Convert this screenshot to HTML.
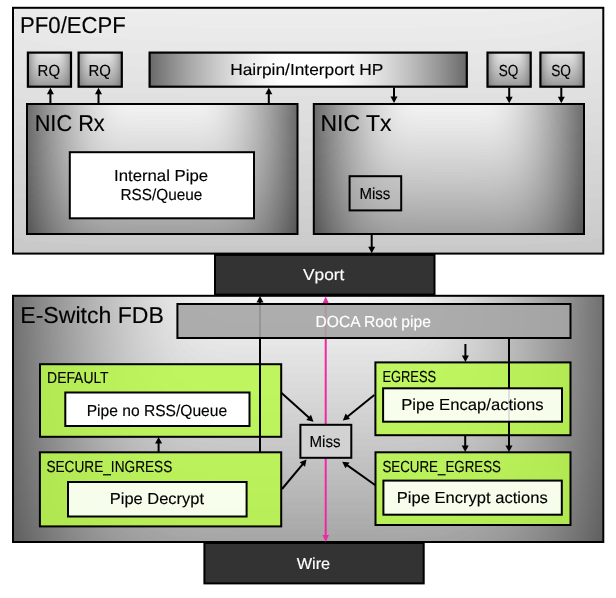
<!DOCTYPE html>
<html><head><meta charset="utf-8"><title>DOCA pipe diagram</title>
<style>html,body{margin:0;padding:0;background:#fff}svg{display:block}text{font-family:"Liberation Sans",sans-serif;stroke-width:0.15px;text-rendering:geometricPrecision}</style></head>
<body><svg width="616" height="598" viewBox="0 0 616 598">
<defs><clipPath id="cp1"><rect x="13" y="7.8" width="590.30" height="245.80"/></clipPath><clipPath id="cp2"><rect x="27.9" y="52.6" width="43.10" height="34.10"/></clipPath><clipPath id="cp3"><rect x="78.6" y="52.6" width="43.20" height="34.10"/></clipPath><linearGradient id="hp" x1="0" y1="0" x2="1" y2="0"><stop offset="0.0000" stop-color="#696969"/><stop offset="0.0417" stop-color="#7f7f7f"/><stop offset="0.0833" stop-color="#949494"/><stop offset="0.1250" stop-color="#a7a7a7"/><stop offset="0.1667" stop-color="#b9b9b9"/><stop offset="0.2083" stop-color="#c9c9c9"/><stop offset="0.2500" stop-color="#d8d8d8"/><stop offset="0.2917" stop-color="#e5e5e5"/><stop offset="0.3333" stop-color="#efefef"/><stop offset="0.3750" stop-color="#f8f8f8"/><stop offset="0.4167" stop-color="#fefefe"/><stop offset="0.4583" stop-color="#ffffff"/><stop offset="0.5000" stop-color="#ffffff"/><stop offset="0.5417" stop-color="#ffffff"/><stop offset="0.5833" stop-color="#fefefe"/><stop offset="0.6250" stop-color="#f8f8f8"/><stop offset="0.6667" stop-color="#efefef"/><stop offset="0.7083" stop-color="#e5e5e5"/><stop offset="0.7500" stop-color="#d8d8d8"/><stop offset="0.7917" stop-color="#c9c9c9"/><stop offset="0.8333" stop-color="#b9b9b9"/><stop offset="0.8750" stop-color="#a7a7a7"/><stop offset="0.9167" stop-color="#949494"/><stop offset="0.9583" stop-color="#7f7f7f"/><stop offset="1.0000" stop-color="#696969"/></linearGradient><clipPath id="cp4"><rect x="487.5" y="52.6" width="43.20" height="34.10"/></clipPath><clipPath id="cp5"><rect x="540.4" y="52.6" width="43.30" height="34.10"/></clipPath><clipPath id="cp6"><rect x="27" y="104" width="270.50" height="130.00"/></clipPath><clipPath id="cp7"><rect x="313.8" y="104" width="270.20" height="130.00"/></clipPath><clipPath id="cp8"><rect x="13" y="295.8" width="590.30" height="246.20"/></clipPath><linearGradient id="gg" x1="0" y1="0" x2="1" y2="0"><stop offset="0" stop-color="#bbf262"/><stop offset="1" stop-color="#abe34c"/></linearGradient></defs>
<g clip-path="url(#cp1)" shape-rendering="crispEdges"><rect x="13" y="7.8" width="590.30" height="245.80" fill="#c9c9c9"/><g id="hf1" transform="translate(308.15,7.8)"><polygon points="-0.6,0.0 301.1,0.0 301.1,32.8 301.1,63.2 301.1,91.2 301.1,116.7 301.1,139.8 301.1,160.5 301.1,178.7 301.1,194.5 301.1,207.9 301.1,218.8 301.1,227.3 278.6,233.4 211.4,237.0 44.3,238.2 -0.6,238.2" fill="#cccccc"/><polygon points="-0.6,0.0 301.1,0.0 301.1,30.9 301.1,59.6 301.1,85.9 301.1,110.0 301.1,131.8 301.1,151.3 301.1,168.4 301.1,183.3 301.1,195.9 301.1,206.3 301.1,214.3 272.1,220.0 206.8,223.4 44.3,224.6 -0.6,224.6" fill="#cecece"/><polygon points="-0.6,0.0 301.1,0.0 301.1,29.1 301.1,56.0 301.1,80.7 301.1,103.3 301.1,123.8 301.1,142.1 301.1,158.2 301.1,172.2 301.1,184.0 301.1,193.7 301.1,201.3 265.6,206.6 202.1,209.9 44.3,210.9 -0.6,210.9" fill="#d0d0d0"/><polygon points="-0.6,0.0 301.1,0.0 301.1,27.2 301.1,52.3 301.1,75.5 301.1,96.6 301.1,115.8 301.1,132.9 301.1,148.0 301.1,161.0 301.1,172.1 301.1,181.2 301.1,188.2 258.8,193.3 197.3,196.3 44.3,197.3 -0.6,197.3" fill="#d2d2d2"/><polygon points="-0.6,0.0 301.1,0.0 301.1,25.3 301.1,48.7 301.1,70.3 301.1,89.9 301.1,107.7 301.1,123.7 301.1,137.7 301.1,149.9 301.1,160.2 301.1,168.6 296.8,175.2 251.9,179.9 192.3,182.7 44.3,183.6 -0.6,183.6" fill="#d4d4d4"/><polygon points="-0.6,0.0 301.1,0.0 301.1,23.4 301.1,45.1 301.1,65.0 301.1,83.3 301.1,99.7 301.1,114.5 301.1,127.5 301.1,138.8 301.1,148.3 301.1,156.1 288.2,162.2 244.8,166.5 187.2,169.1 44.3,170.0 -0.6,170.0" fill="#d6d6d6"/><polygon points="-0.6,0.0 301.1,0.0 301.1,21.5 301.1,41.5 301.1,59.8 301.1,76.6 301.1,91.7 301.1,105.3 301.1,117.2 301.1,127.6 301.1,136.4 301.1,143.6 279.3,149.1 237.4,153.1 182.0,155.5 44.3,156.3 -0.6,156.3" fill="#d8d8d8"/><polygon points="-0.6,0.0 301.1,0.0 301.1,19.7 301.1,37.8 301.1,54.6 301.1,69.9 301.1,83.7 301.1,96.1 301.1,107.0 301.1,116.5 301.1,124.5 301.1,131.0 270.1,136.1 229.9,139.7 176.6,141.9 44.3,142.7 -0.6,142.7" fill="#dadada"/><polygon points="-0.6,0.0 301.1,0.0 301.1,17.8 301.1,34.2 301.1,49.4 301.1,63.2 301.1,75.7 301.1,86.9 301.1,96.8 301.1,105.3 301.1,112.6 292.6,118.5 260.6,123.1 222.0,126.4 171.0,128.3 44.3,129.0 -0.6,129.0" fill="#dcdcdc"/><polygon points="-0.6,0.0 301.1,0.0 301.1,15.9 301.1,30.6 301.1,44.1 301.1,56.5 301.1,67.7 301.1,77.7 301.1,86.5 301.1,94.2 301.1,100.6 281.2,105.9 250.7,110.1 213.9,113.0 165.2,114.8 44.3,115.3 -0.6,115.3" fill="#dedede"/><polygon points="-0.6,0.0 301.1,0.0 301.1,14.0 301.1,27.0 301.1,38.9 301.1,49.8 301.1,59.7 301.1,68.5 301.1,76.3 301.1,83.0 294.5,88.7 269.4,93.4 240.3,97.0 205.3,99.6 159.1,101.2 44.3,101.7 -0.6,101.7" fill="#e0e0e0"/><polygon points="-0.6,0.0 301.1,0.0 301.1,12.1 301.1,23.4 301.1,33.7 301.1,43.1 301.1,51.7 301.1,59.3 301.1,66.0 301.1,71.9 280.6,76.8 256.9,80.9 229.4,84.0 196.3,86.2 152.7,87.6 44.3,88.0 -0.6,88.0" fill="#e2e2e2"/><polygon points="-0.6,0.0 301.1,0.0 301.1,10.2 301.1,19.7 301.1,28.5 301.1,36.4 301.1,43.6 301.1,50.1 301.1,55.8 285.7,60.7 266.0,64.9 243.6,68.3 217.8,71.0 186.8,72.9 145.8,74.0 44.3,74.4 -0.6,74.4" fill="#e4e4e4"/><polygon points="-0.6,0.0 301.1,0.0 301.1,8.4 301.1,16.1 301.1,23.2 301.1,29.7 301.1,35.6 300.3,40.9 285.2,45.5 268.6,49.6 250.1,53.0 229.3,55.8 205.3,57.9 176.5,59.5 138.5,60.4 44.3,60.7 -0.6,60.7" fill="#e6e6e6"/><polygon points="-0.6,0.0 301.1,0.0 301.1,6.5 301.1,12.5 301.1,18.0 301.1,23.1 291.9,27.6 279.0,31.7 265.0,35.3 249.6,38.4 232.6,41.1 213.5,43.2 191.5,44.9 165.1,46.1 130.4,46.8 44.3,47.1 -0.6,47.1" fill="#e8e8e8"/><polygon points="-0.6,0.0 301.1,0.0 301.1,4.6 296.6,8.9 287.2,12.8 277.1,16.4 266.3,19.6 254.5,22.5 241.8,25.1 227.9,27.3 212.6,29.2 195.4,30.7 175.7,31.9 152.1,32.7 121.1,33.2 44.3,33.4 -0.6,33.4" fill="#eaeaea"/><polygon points="-0.6,0.0 276.6,0.0 269.1,2.7 261.2,5.2 252.7,7.6 243.8,9.7 234.2,11.6 224.0,13.3 212.9,14.8 200.9,16.1 187.7,17.2 173.0,18.1 156.2,18.9 136.0,19.4 109.6,19.7 44.3,19.8 -0.6,19.8" fill="#ececec"/><polygon points="-0.6,0.0 215.1,0.0 209.2,0.8 203.1,1.6 196.6,2.3 189.8,3.0 182.6,3.6 174.9,4.1 166.7,4.6 157.9,5.0 148.2,5.3 137.5,5.6 125.2,5.8 110.7,6.0 91.5,6.1 44.3,6.1 -0.6,6.1" fill="#eeeeee"/></g><use href="#hf1" transform="translate(616.30,0) scale(-1,1)"/></g><rect x="13" y="7.8" width="590.30" height="245.80" fill="none" stroke="#000" stroke-width="2"/>
<g clip-path="url(#cp2)" shape-rendering="crispEdges"><rect x="27.9" y="52.6" width="43.10" height="34.10" fill="#737373"/><g id="hf2" transform="translate(49.45,52.6)"><polygon points="-0.6,0.0 22.0,0.0 22.0,2.4 22.0,4.9 22.0,7.3 22.0,9.7 22.0,12.2 22.0,14.6 22.0,17.1 22.0,19.5 22.0,21.9 22.0,24.4 22.0,26.8 22.0,29.2 21.9,31.7 21.3,34.1 -0.6,34.1" fill="#767676"/><polygon points="-0.6,0.0 22.0,0.0 22.0,2.4 22.0,4.9 22.0,7.3 22.0,9.7 22.0,12.2 22.0,14.6 22.0,17.1 22.0,19.5 22.0,21.9 22.0,24.4 22.0,26.8 22.0,29.2 21.6,31.7 20.9,34.1 -0.6,34.1" fill="#787878"/><polygon points="-0.6,0.0 22.0,0.0 22.0,2.4 22.0,4.9 22.0,7.3 22.0,9.7 22.0,12.2 22.0,14.6 22.0,17.1 22.0,19.5 22.0,21.9 22.0,24.4 22.0,26.8 21.9,29.2 21.3,31.7 20.6,34.1 -0.6,34.1" fill="#7a7a7a"/><polygon points="-0.6,0.0 22.0,0.0 22.0,2.4 22.0,4.9 22.0,7.3 22.0,9.7 22.0,12.2 22.0,14.6 22.0,17.1 22.0,19.5 22.0,21.9 22.0,24.4 22.0,26.8 21.6,29.2 21.0,31.7 20.3,34.1 -0.6,34.1" fill="#7c7c7c"/><polygon points="-0.6,0.0 22.0,0.0 22.0,2.4 22.0,4.9 22.0,7.3 22.0,9.7 22.0,12.2 22.0,14.6 22.0,17.1 22.0,19.5 22.0,21.9 22.0,24.4 21.8,26.8 21.3,29.2 20.7,31.7 20.0,34.1 -0.6,34.1" fill="#7e7e7e"/><polygon points="-0.6,0.0 22.0,0.0 22.0,2.4 22.0,4.9 22.0,7.3 22.0,9.7 22.0,12.2 22.0,14.6 22.0,17.1 22.0,19.5 22.0,21.9 22.0,24.4 21.6,26.8 21.1,29.2 20.4,31.7 19.6,34.1 -0.6,34.1" fill="#808080"/><polygon points="-0.6,0.0 22.0,0.0 22.0,2.4 22.0,4.9 22.0,7.3 22.0,9.7 22.0,12.2 22.0,14.6 22.0,17.1 22.0,19.5 22.0,21.9 21.7,24.4 21.3,26.8 20.8,29.2 20.1,31.7 19.2,34.1 -0.6,34.1" fill="#828282"/><polygon points="-0.6,0.0 22.0,0.0 22.0,2.4 22.0,4.9 22.0,7.3 22.0,9.7 22.0,12.2 22.0,14.6 22.0,17.1 22.0,19.5 21.8,21.9 21.5,24.4 21.0,26.8 20.5,29.2 19.8,31.7 18.8,34.1 -0.6,34.1" fill="#848484"/><polygon points="-0.6,0.0 22.0,0.0 22.0,2.4 22.0,4.9 22.0,7.3 22.0,9.7 22.0,12.2 22.0,14.6 22.0,17.1 21.9,19.5 21.6,21.9 21.2,24.4 20.8,26.8 20.2,29.2 19.4,31.7 18.4,34.1 -0.6,34.1" fill="#868686"/><polygon points="-0.6,0.0 22.0,0.0 22.0,2.4 22.0,4.9 22.0,7.3 22.0,9.7 22.0,12.2 22.0,14.6 21.9,17.1 21.7,19.5 21.4,21.9 21.0,24.4 20.5,26.8 19.9,29.2 19.1,31.7 17.9,34.1 -0.6,34.1" fill="#888888"/><polygon points="-0.6,0.0 22.0,0.0 22.0,2.4 22.0,4.9 22.0,7.3 22.0,9.7 22.0,12.2 21.9,14.6 21.7,17.1 21.4,19.5 21.1,21.9 20.7,24.4 20.2,26.8 19.5,29.2 18.7,31.7 17.5,34.1 -0.6,34.1" fill="#8a8a8a"/><polygon points="-0.6,0.0 22.0,0.0 22.0,2.4 22.0,4.9 22.0,7.3 22.0,9.7 21.8,12.2 21.7,14.6 21.5,17.1 21.2,19.5 20.9,21.9 20.4,24.4 19.9,26.8 19.2,29.2 18.3,31.7 16.9,34.1 -0.6,34.1" fill="#8c8c8c"/><polygon points="-0.6,0.0 22.0,0.0 22.0,2.4 22.0,4.9 21.9,7.3 21.8,9.7 21.6,12.2 21.4,14.6 21.2,17.1 20.9,19.5 20.6,21.9 20.2,24.4 19.6,26.8 18.9,29.2 17.9,31.7 16.4,34.1 -0.6,34.1" fill="#8e8e8e"/><polygon points="-0.6,0.0 21.9,0.0 21.9,2.4 21.8,4.9 21.7,7.3 21.6,9.7 21.4,12.2 21.2,14.6 21.0,17.1 20.7,19.5 20.3,21.9 19.9,24.4 19.3,26.8 18.5,29.2 17.4,31.7 15.7,34.1 -0.6,34.1" fill="#909090"/><polygon points="-0.6,0.0 21.7,0.0 21.7,2.4 21.6,4.9 21.5,7.3 21.3,9.7 21.2,12.2 21.0,14.6 20.8,17.1 20.4,19.5 20.1,21.9 19.6,24.4 18.9,26.8 18.1,29.2 16.9,31.7 14.9,34.1 -0.6,34.1" fill="#929292"/><polygon points="-0.6,0.0 21.5,0.0 21.4,2.4 21.4,4.9 21.3,7.3 21.1,9.7 21.0,12.2 20.8,14.6 20.5,17.1 20.2,19.5 19.8,21.9 19.3,24.4 18.6,26.8 17.7,29.2 16.4,31.7 14.0,34.1 -0.6,34.1" fill="#949494"/><polygon points="-0.6,0.0 21.3,0.0 21.2,2.4 21.2,4.9 21.0,7.3 20.9,9.7 20.7,12.2 20.5,14.6 20.3,17.1 19.9,19.5 19.5,21.9 19.0,24.4 18.2,26.8 17.3,29.2 15.8,31.7 12.8,34.1 -0.6,34.1" fill="#969696"/><polygon points="-0.6,0.0 21.1,0.0 21.0,2.4 20.9,4.9 20.8,7.3 20.7,9.7 20.5,12.2 20.3,14.6 20.0,17.1 19.7,19.5 19.2,21.9 18.6,24.4 17.9,26.8 16.8,29.2 15.1,31.7 10.7,34.1 -0.6,34.1" fill="#989898"/><polygon points="-0.6,0.0 20.9,0.0 20.7,4.7 20.5,9.0 20.2,12.9 19.8,16.6 19.3,19.8 18.7,22.8 18.0,25.4 17.1,27.6 16.1,29.5 14.9,31.1 13.4,32.3 11.6,33.1 9.2,33.7 3.2,33.8 -0.6,33.8" fill="#9a9a9a"/><polygon points="-0.6,0.0 20.7,0.0 20.5,4.6 20.3,8.8 20.0,12.7 19.6,16.2 19.1,19.4 18.5,22.3 17.8,24.9 16.9,27.1 15.9,28.9 14.7,30.4 13.3,31.6 11.5,32.5 9.2,33.0 3.2,33.1 -0.6,33.1" fill="#9c9c9c"/><polygon points="-0.6,0.0 20.5,0.0 20.3,4.5 20.1,8.6 19.8,12.4 19.4,15.9 18.9,19.0 18.3,21.8 17.6,24.3 16.7,26.5 15.7,28.3 14.5,29.8 13.1,31.0 11.4,31.8 9.1,32.3 3.2,32.4 -0.6,32.4" fill="#9e9e9e"/><polygon points="-0.6,0.0 20.2,0.0 20.1,4.4 19.9,8.4 19.6,12.1 19.2,15.5 18.7,18.6 18.1,21.4 17.4,23.8 16.5,25.9 15.6,27.7 14.4,29.1 13.0,30.3 11.3,31.1 9.0,31.6 3.2,31.7 -0.6,31.7" fill="#a0a0a0"/><polygon points="-0.6,0.0 20.0,0.0 19.9,4.3 19.6,8.2 19.3,11.9 18.9,15.2 18.5,18.2 17.9,20.9 17.2,23.3 16.3,25.3 15.4,27.1 14.2,28.5 12.8,29.6 11.2,30.4 8.9,30.9 3.2,31.0 -0.6,31.0" fill="#a2a2a2"/><polygon points="-0.6,0.0 19.8,0.0 19.6,4.2 19.4,8.0 19.1,11.6 18.7,14.8 18.2,17.8 17.7,20.4 17.0,22.7 16.1,24.7 15.2,26.4 14.0,27.8 12.7,28.9 11.0,29.7 8.8,30.2 3.2,30.3 -0.6,30.3" fill="#a4a4a4"/><polygon points="-0.6,0.0 19.6,0.0 19.4,4.1 19.2,7.9 18.9,11.3 18.5,14.5 18.0,17.4 17.4,19.9 16.8,22.2 15.9,24.2 15.0,25.8 13.9,27.2 12.5,28.2 10.9,29.0 8.7,29.4 3.2,29.6 -0.6,29.6" fill="#a6a6a6"/><polygon points="-0.6,0.0 19.3,0.0 19.2,4.0 18.9,7.7 18.6,11.0 18.3,14.1 17.8,16.9 17.2,19.4 16.5,21.6 15.7,23.6 14.8,25.2 13.7,26.5 12.4,27.5 10.8,28.3 8.6,28.7 3.2,28.9 -0.6,28.9" fill="#a8a8a8"/><polygon points="-0.6,0.0 19.1,0.0 18.9,3.9 18.7,7.5 18.4,10.8 18.0,13.8 17.6,16.5 17.0,18.9 16.3,21.1 15.5,23.0 14.6,24.5 13.5,25.8 12.2,26.8 10.7,27.5 8.5,28.0 3.2,28.1 -0.6,28.1" fill="#aaaaaa"/><polygon points="-0.6,0.0 18.9,0.0 18.7,3.8 18.5,7.3 18.2,10.5 17.8,13.4 17.3,16.1 16.8,18.4 16.1,20.5 15.3,22.3 14.4,23.9 13.4,25.1 12.1,26.1 10.5,26.8 8.4,27.2 3.2,27.4 -0.6,27.4" fill="#acacac"/><polygon points="-0.6,0.0 18.6,0.0 18.5,3.7 18.2,7.1 17.9,10.2 17.6,13.0 17.1,15.6 16.5,17.9 15.9,20.0 15.1,21.7 14.2,23.2 13.2,24.4 11.9,25.4 10.4,26.1 8.3,26.5 3.2,26.6 -0.6,26.6" fill="#aeaeae"/><polygon points="-0.6,0.0 18.4,0.0 18.2,3.6 18.0,6.9 17.7,9.9 17.3,12.7 16.9,15.2 16.3,17.4 15.7,19.4 14.9,21.1 14.0,22.5 13.0,23.7 11.8,24.7 10.3,25.3 8.3,25.7 3.2,25.8 -0.6,25.8" fill="#b0b0b0"/><polygon points="-0.6,0.0 18.2,0.0 18.0,3.5 17.8,6.7 17.4,9.6 17.1,12.3 16.6,14.7 16.1,16.9 15.4,18.8 14.7,20.5 13.8,21.9 12.8,23.0 11.6,23.9 10.1,24.6 8.2,24.9 3.2,25.1 -0.6,25.1" fill="#b2b2b2"/><polygon points="-0.6,0.0 17.9,0.0 17.7,3.3 17.5,6.4 17.2,9.3 16.8,11.9 16.4,14.2 15.8,16.4 15.2,18.2 14.5,19.8 13.6,21.2 12.6,22.3 11.4,23.2 10.0,23.8 8.1,24.2 3.2,24.3 -0.6,24.3" fill="#b4b4b4"/><polygon points="-0.6,0.0 17.7,0.0 17.5,3.2 17.2,6.2 16.9,9.0 16.6,11.5 16.1,13.8 15.6,15.8 15.0,17.6 14.3,19.2 13.4,20.5 12.4,21.6 11.3,22.4 9.9,23.0 8.0,23.4 3.2,23.5 -0.6,23.5" fill="#b6b6b6"/><polygon points="-0.6,0.0 17.4,0.0 17.2,3.1 17.0,6.0 16.7,8.7 16.3,11.1 15.9,13.3 15.4,15.3 14.7,17.0 14.0,18.5 13.2,19.8 12.2,20.8 11.1,21.6 9.7,22.2 7.9,22.6 3.2,22.7 -0.6,22.7" fill="#b8b8b8"/><polygon points="-0.6,0.0 17.2,0.0 17.0,3.0 16.7,5.8 16.4,8.4 16.1,10.7 15.6,12.8 15.1,14.7 14.5,16.4 13.8,17.8 13.0,19.1 12.1,20.1 10.9,20.9 9.6,21.4 7.8,21.7 3.2,21.9 -0.6,21.9" fill="#bababa"/><polygon points="-0.6,0.0 16.9,0.0 16.7,2.9 16.5,5.6 16.2,8.0 15.8,10.3 15.4,12.3 14.9,14.2 14.3,15.8 13.6,17.2 12.8,18.3 11.9,19.3 10.8,20.1 9.4,20.6 7.7,20.9 3.2,21.0 -0.6,21.0" fill="#bcbcbc"/><polygon points="-0.6,0.0 16.6,0.0 16.4,2.8 16.2,5.4 15.9,7.7 15.5,9.9 15.1,11.8 14.6,13.6 14.0,15.1 13.3,16.5 12.6,17.6 11.7,18.5 10.6,19.3 9.3,19.8 7.6,20.1 3.2,20.2 -0.6,20.2" fill="#bebebe"/><polygon points="-0.6,0.0 16.4,0.0 16.2,2.7 15.9,5.1 15.6,7.4 15.3,9.5 14.8,11.3 14.3,13.0 13.8,14.5 13.1,15.8 12.3,16.9 11.5,17.8 10.4,18.4 9.1,18.9 7.5,19.2 3.2,19.3 -0.6,19.3" fill="#c0c0c0"/><polygon points="-0.6,0.0 16.1,0.0 15.9,2.5 15.6,4.9 15.3,7.1 15.0,9.0 14.6,10.8 14.1,12.4 13.5,13.8 12.9,15.1 12.1,16.1 11.2,17.0 10.2,17.6 9.0,18.1 7.3,18.4 3.2,18.5 -0.6,18.5" fill="#c2c2c2"/><polygon points="-0.6,0.0 15.8,0.0 15.6,2.4 15.3,4.7 15.0,6.7 14.7,8.6 14.3,10.3 13.8,11.8 13.2,13.2 12.6,14.4 11.9,15.3 11.0,16.1 10.0,16.8 8.8,17.2 7.2,17.5 3.2,17.6 -0.6,17.6" fill="#c4c4c4"/><polygon points="-0.6,0.0 15.5,0.0 15.3,2.3 15.1,4.4 14.8,6.4 14.4,8.2 14.0,9.8 13.5,11.2 13.0,12.5 12.4,13.6 11.6,14.6 10.8,15.3 9.9,15.9 8.7,16.3 7.1,16.6 3.2,16.7 -0.6,16.7" fill="#c6c6c6"/><polygon points="-0.6,0.0 15.2,0.0 15.0,2.2 14.7,4.2 14.4,6.0 14.1,7.7 13.7,9.3 13.2,10.6 12.7,11.8 12.1,12.9 11.4,13.8 10.6,14.5 9.7,15.1 8.5,15.5 7.0,15.7 3.2,15.8 -0.6,15.8" fill="#c8c8c8"/><polygon points="-0.6,0.0 14.9,0.0 14.7,2.0 14.4,3.9 14.1,5.7 13.8,7.3 13.4,8.7 12.9,10.0 12.4,11.1 11.8,12.1 11.2,13.0 10.4,13.6 9.5,14.2 8.4,14.5 6.9,14.8 3.2,14.8 -0.6,14.8" fill="#cacaca"/><polygon points="-0.6,0.0 14.6,0.0 14.4,1.9 14.1,3.7 13.8,5.3 13.5,6.8 13.1,8.2 12.6,9.4 12.1,10.4 11.6,11.4 10.9,12.1 10.1,12.8 9.3,13.3 8.2,13.6 6.8,13.8 3.2,13.9 -0.6,13.9" fill="#cccccc"/><polygon points="-0.6,0.0 14.3,0.0 14.0,1.8 13.8,3.4 13.5,5.0 13.2,6.3 12.8,7.6 12.3,8.7 11.8,9.7 11.3,10.6 10.6,11.3 9.9,11.9 9.1,12.3 8.0,12.7 6.6,12.9 3.2,12.9 -0.6,12.9" fill="#cecece"/><polygon points="-0.6,0.0 13.9,0.0 13.7,1.6 13.4,3.2 13.1,4.6 12.8,5.9 12.4,7.0 12.0,8.1 11.5,9.0 11.0,9.8 10.4,10.4 9.7,11.0 8.8,11.4 7.8,11.7 6.5,11.9 3.2,12.0 -0.6,12.0" fill="#d0d0d0"/><polygon points="-0.6,0.0 13.6,0.0 13.3,1.5 13.1,2.9 12.8,4.2 12.5,5.4 12.1,6.4 11.7,7.4 11.2,8.2 10.7,8.9 10.1,9.6 9.4,10.1 8.6,10.5 7.7,10.7 6.4,10.9 3.2,11.0 -0.6,11.0" fill="#d2d2d2"/><polygon points="-0.6,0.0 13.2,0.0 13.0,1.4 12.7,2.6 12.4,3.8 12.1,4.9 11.7,5.8 11.3,6.7 10.9,7.5 10.4,8.1 9.8,8.7 9.1,9.1 8.4,9.5 7.5,9.7 6.2,9.9 3.2,9.9 -0.6,9.9" fill="#d4d4d4"/><polygon points="-0.6,0.0 12.8,0.0 12.6,1.2 12.3,2.4 12.0,3.4 11.7,4.4 11.4,5.2 11.0,6.0 10.5,6.7 10.0,7.3 9.5,7.8 8.9,8.2 8.1,8.5 7.3,8.7 6.1,8.8 3.2,8.9 -0.6,8.9" fill="#d6d6d6"/><polygon points="-0.6,0.0 12.4,0.0 12.1,1.1 11.9,2.1 11.6,3.0 11.3,3.8 11.0,4.6 10.6,5.3 10.2,5.9 9.7,6.4 9.2,6.8 8.6,7.2 7.9,7.5 7.1,7.7 6.0,7.8 3.2,7.8 -0.6,7.8" fill="#d8d8d8"/><polygon points="-0.6,0.0 11.9,0.0 11.7,0.9 11.4,1.8 11.2,2.6 10.9,3.3 10.5,3.9 10.2,4.5 9.8,5.0 9.3,5.5 8.8,5.9 8.3,6.2 7.6,6.4 6.8,6.6 5.8,6.7 3.2,6.7 -0.6,6.7" fill="#dadada"/><polygon points="-0.6,0.0 11.4,0.0 11.2,0.8 11.0,1.5 10.7,2.1 10.4,2.7 10.1,3.3 9.7,3.8 9.3,4.2 8.9,4.6 8.5,4.9 7.9,5.1 7.3,5.3 6.6,5.5 5.6,5.6 3.2,5.6 -0.6,5.6" fill="#dcdcdc"/><polygon points="-0.6,0.0 10.9,0.0 10.6,0.6 10.4,1.2 10.1,1.7 9.9,2.2 9.6,2.6 9.2,3.0 8.9,3.3 8.5,3.6 8.0,3.9 7.6,4.1 7.0,4.2 6.3,4.4 5.4,4.4 3.2,4.4 -0.6,4.4" fill="#dedede"/><polygon points="-0.6,0.0 10.2,0.0 10.0,0.4 9.8,0.9 9.5,1.2 9.2,1.6 9.0,1.9 8.7,2.2 8.3,2.4 8.0,2.7 7.6,2.8 7.1,3.0 6.6,3.1 6.0,3.2 5.2,3.2 3.2,3.3 -0.6,3.3" fill="#e0e0e0"/><polygon points="-0.6,0.0 9.3,0.0 9.1,0.3 8.9,0.5 8.7,0.8 8.5,1.0 8.2,1.2 8.0,1.4 7.7,1.5 7.3,1.7 7.0,1.8 6.6,1.9 6.2,1.9 5.6,2.0 4.9,2.0 3.2,2.0 -0.6,2.0" fill="#e2e2e2"/><polygon points="-0.6,0.0 8.0,0.0 7.8,0.1 7.6,0.2 7.5,0.3 7.3,0.4 7.1,0.5 6.9,0.5 6.6,0.6 6.4,0.6 6.1,0.7 5.8,0.7 5.5,0.7 5.1,0.8 4.5,0.8 3.2,0.8 -0.6,0.8" fill="#e4e4e4"/></g><use href="#hf2" transform="translate(98.90,0) scale(-1,1)"/></g><rect x="27.9" y="52.6" width="43.10" height="34.10" fill="none" stroke="#000" stroke-width="2.2"/>
<g clip-path="url(#cp3)" shape-rendering="crispEdges"><rect x="78.6" y="52.6" width="43.20" height="34.10" fill="#737373"/><g id="hf3" transform="translate(100.20,52.6)"><polygon points="-0.6,0.0 22.0,0.0 22.0,2.4 22.0,4.9 22.0,7.3 22.0,9.7 22.0,12.2 22.0,14.6 22.0,17.1 22.0,19.5 22.0,21.9 22.0,24.4 22.0,26.8 22.0,29.2 21.9,31.7 21.3,34.1 -0.6,34.1" fill="#767676"/><polygon points="-0.6,0.0 22.0,0.0 22.0,2.4 22.0,4.9 22.0,7.3 22.0,9.7 22.0,12.2 22.0,14.6 22.0,17.1 22.0,19.5 22.0,21.9 22.0,24.4 22.0,26.8 22.0,29.2 21.7,31.7 21.0,34.1 -0.6,34.1" fill="#787878"/><polygon points="-0.6,0.0 22.0,0.0 22.0,2.4 22.0,4.9 22.0,7.3 22.0,9.7 22.0,12.2 22.0,14.6 22.0,17.1 22.0,19.5 22.0,21.9 22.0,24.4 22.0,26.8 21.9,29.2 21.4,31.7 20.7,34.1 -0.6,34.1" fill="#7a7a7a"/><polygon points="-0.6,0.0 22.0,0.0 22.0,2.4 22.0,4.9 22.0,7.3 22.0,9.7 22.0,12.2 22.0,14.6 22.0,17.1 22.0,19.5 22.0,21.9 22.0,24.4 22.0,26.8 21.7,29.2 21.1,31.7 20.3,34.1 -0.6,34.1" fill="#7c7c7c"/><polygon points="-0.6,0.0 22.0,0.0 22.0,2.4 22.0,4.9 22.0,7.3 22.0,9.7 22.0,12.2 22.0,14.6 22.0,17.1 22.0,19.5 22.0,21.9 22.0,24.4 21.9,26.8 21.4,29.2 20.8,31.7 20.0,34.1 -0.6,34.1" fill="#7e7e7e"/><polygon points="-0.6,0.0 22.0,0.0 22.0,2.4 22.0,4.9 22.0,7.3 22.0,9.7 22.0,12.2 22.0,14.6 22.0,17.1 22.0,19.5 22.0,21.9 22.0,24.4 21.6,26.8 21.1,29.2 20.5,31.7 19.6,34.1 -0.6,34.1" fill="#808080"/><polygon points="-0.6,0.0 22.0,0.0 22.0,2.4 22.0,4.9 22.0,7.3 22.0,9.7 22.0,12.2 22.0,14.6 22.0,17.1 22.0,19.5 22.0,21.9 21.8,24.4 21.4,26.8 20.8,29.2 20.2,31.7 19.3,34.1 -0.6,34.1" fill="#828282"/><polygon points="-0.6,0.0 22.0,0.0 22.0,2.4 22.0,4.9 22.0,7.3 22.0,9.7 22.0,12.2 22.0,14.6 22.0,17.1 22.0,19.5 21.9,21.9 21.5,24.4 21.1,26.8 20.5,29.2 19.8,31.7 18.9,34.1 -0.6,34.1" fill="#848484"/><polygon points="-0.6,0.0 22.0,0.0 22.0,2.4 22.0,4.9 22.0,7.3 22.0,9.7 22.0,12.2 22.0,14.6 22.0,17.1 21.9,19.5 21.6,21.9 21.3,24.4 20.8,26.8 20.2,29.2 19.5,31.7 18.4,34.1 -0.6,34.1" fill="#868686"/><polygon points="-0.6,0.0 22.0,0.0 22.0,2.4 22.0,4.9 22.0,7.3 22.0,9.7 22.0,12.2 22.0,14.6 22.0,17.1 21.7,19.5 21.4,21.9 21.0,24.4 20.5,26.8 19.9,29.2 19.1,31.7 18.0,34.1 -0.6,34.1" fill="#888888"/><polygon points="-0.6,0.0 22.0,0.0 22.0,2.4 22.0,4.9 22.0,7.3 22.0,9.7 22.0,12.2 21.9,14.6 21.7,17.1 21.5,19.5 21.2,21.9 20.8,24.4 20.2,26.8 19.6,29.2 18.7,31.7 17.5,34.1 -0.6,34.1" fill="#8a8a8a"/><polygon points="-0.6,0.0 22.0,0.0 22.0,2.4 22.0,4.9 22.0,7.3 22.0,9.7 21.9,12.2 21.7,14.6 21.5,17.1 21.2,19.5 20.9,21.9 20.5,24.4 19.9,26.8 19.3,29.2 18.3,31.7 17.0,34.1 -0.6,34.1" fill="#8c8c8c"/><polygon points="-0.6,0.0 22.0,0.0 22.0,2.4 22.0,4.9 21.9,7.3 21.8,9.7 21.7,12.2 21.5,14.6 21.3,17.1 21.0,19.5 20.6,21.9 20.2,24.4 19.6,26.8 18.9,29.2 17.9,31.7 16.4,34.1 -0.6,34.1" fill="#8e8e8e"/><polygon points="-0.6,0.0 22.0,0.0 21.9,2.4 21.8,4.9 21.7,7.3 21.6,9.7 21.5,12.2 21.3,14.6 21.0,17.1 20.7,19.5 20.4,21.9 19.9,24.4 19.3,26.8 18.5,29.2 17.4,31.7 15.7,34.1 -0.6,34.1" fill="#909090"/><polygon points="-0.6,0.0 21.8,0.0 21.7,2.4 21.6,4.9 21.5,7.3 21.4,9.7 21.2,12.2 21.0,14.6 20.8,17.1 20.5,19.5 20.1,21.9 19.6,24.4 19.0,26.8 18.1,29.2 16.9,31.7 15.0,34.1 -0.6,34.1" fill="#929292"/><polygon points="-0.6,0.0 21.6,0.0 21.5,2.4 21.4,4.9 21.3,7.3 21.2,9.7 21.0,12.2 20.8,14.6 20.6,17.1 20.2,19.5 19.8,21.9 19.3,24.4 18.6,26.8 17.7,29.2 16.4,31.7 14.0,34.1 -0.6,34.1" fill="#949494"/><polygon points="-0.6,0.0 21.3,0.0 21.3,2.4 21.2,4.9 21.1,7.3 21.0,9.7 20.8,12.2 20.6,14.6 20.3,17.1 20.0,19.5 19.5,21.9 19.0,24.4 18.3,26.8 17.3,29.2 15.8,31.7 12.8,34.1 -0.6,34.1" fill="#969696"/><polygon points="-0.6,0.0 21.1,0.0 21.1,2.4 21.0,4.9 20.9,7.3 20.7,9.7 20.6,12.2 20.3,14.6 20.1,17.1 19.7,19.5 19.3,21.9 18.7,24.4 17.9,26.8 16.8,29.2 15.1,31.7 10.7,34.1 -0.6,34.1" fill="#989898"/><polygon points="-0.6,0.0 20.9,0.0 20.8,4.7 20.6,9.0 20.3,12.9 19.9,16.6 19.4,19.8 18.8,22.8 18.0,25.4 17.2,27.6 16.1,29.5 14.9,31.1 13.5,32.3 11.7,33.1 9.3,33.7 3.2,33.8 -0.6,33.8" fill="#9a9a9a"/><polygon points="-0.6,0.0 20.7,0.0 20.6,4.6 20.3,8.8 20.0,12.7 19.6,16.2 19.2,19.4 18.5,22.3 17.8,24.9 17.0,27.1 15.9,28.9 14.7,30.4 13.3,31.6 11.5,32.5 9.2,33.0 3.2,33.1 -0.6,33.1" fill="#9c9c9c"/><polygon points="-0.6,0.0 20.5,0.0 20.3,4.5 20.1,8.6 19.8,12.4 19.4,15.9 18.9,19.0 18.3,21.8 17.6,24.3 16.8,26.5 15.8,28.3 14.6,29.8 13.2,31.0 11.4,31.8 9.1,32.3 3.2,32.4 -0.6,32.4" fill="#9e9e9e"/><polygon points="-0.6,0.0 20.3,0.0 20.1,4.4 19.9,8.4 19.6,12.1 19.2,15.5 18.7,18.6 18.1,21.4 17.4,23.8 16.6,25.9 15.6,27.7 14.4,29.1 13.0,30.3 11.3,31.1 9.0,31.6 3.2,31.7 -0.6,31.7" fill="#a0a0a0"/><polygon points="-0.6,0.0 20.1,0.0 19.9,4.3 19.7,8.2 19.4,11.9 19.0,15.2 18.5,18.2 17.9,20.9 17.2,23.3 16.4,25.3 15.4,27.1 14.3,28.5 12.9,29.6 11.2,30.4 8.9,30.9 3.2,31.0 -0.6,31.0" fill="#a2a2a2"/><polygon points="-0.6,0.0 19.8,0.0 19.7,4.2 19.5,8.0 19.1,11.6 18.8,14.8 18.3,17.8 17.7,20.4 17.0,22.7 16.2,24.7 15.2,26.4 14.1,27.8 12.7,28.9 11.1,29.7 8.8,30.2 3.2,30.3 -0.6,30.3" fill="#a4a4a4"/><polygon points="-0.6,0.0 19.6,0.0 19.5,4.1 19.2,7.9 18.9,11.3 18.5,14.5 18.1,17.4 17.5,19.9 16.8,22.2 16.0,24.2 15.0,25.8 13.9,27.2 12.6,28.2 10.9,29.0 8.7,29.4 3.2,29.6 -0.6,29.6" fill="#a6a6a6"/><polygon points="-0.6,0.0 19.4,0.0 19.2,4.0 19.0,7.7 18.7,11.0 18.3,14.1 17.8,16.9 17.3,19.4 16.6,21.6 15.8,23.6 14.8,25.2 13.7,26.5 12.4,27.5 10.8,28.3 8.6,28.7 3.2,28.9 -0.6,28.9" fill="#a8a8a8"/><polygon points="-0.6,0.0 19.2,0.0 19.0,3.9 18.8,7.5 18.5,10.8 18.1,13.8 17.6,16.5 17.0,18.9 16.4,21.1 15.6,23.0 14.6,24.5 13.6,25.8 12.3,26.8 10.7,27.5 8.6,28.0 3.2,28.1 -0.6,28.1" fill="#aaaaaa"/><polygon points="-0.6,0.0 18.9,0.0 18.8,3.8 18.5,7.3 18.2,10.5 17.8,13.4 17.4,16.1 16.8,18.4 16.1,20.5 15.4,22.3 14.5,23.9 13.4,25.1 12.1,26.1 10.6,26.8 8.5,27.2 3.2,27.4 -0.6,27.4" fill="#acacac"/><polygon points="-0.6,0.0 18.7,0.0 18.5,3.7 18.3,7.1 18.0,10.2 17.6,13.0 17.1,15.6 16.6,17.9 15.9,20.0 15.2,21.7 14.3,23.2 13.2,24.4 12.0,25.4 10.4,26.1 8.4,26.5 3.2,26.6 -0.6,26.6" fill="#aeaeae"/><polygon points="-0.6,0.0 18.4,0.0 18.3,3.6 18.0,6.9 17.7,9.9 17.4,12.7 16.9,15.2 16.4,17.4 15.7,19.4 14.9,21.1 14.1,22.5 13.0,23.7 11.8,24.7 10.3,25.3 8.3,25.7 3.2,25.8 -0.6,25.8" fill="#b0b0b0"/><polygon points="-0.6,0.0 18.2,0.0 18.0,3.5 17.8,6.7 17.5,9.6 17.1,12.3 16.7,14.7 16.1,16.9 15.5,18.8 14.7,20.5 13.9,21.9 12.8,23.0 11.6,23.9 10.2,24.6 8.2,24.9 3.2,25.1 -0.6,25.1" fill="#b2b2b2"/><polygon points="-0.6,0.0 18.0,0.0 17.8,3.3 17.5,6.4 17.2,9.3 16.9,11.9 16.4,14.2 15.9,16.4 15.2,18.2 14.5,19.8 13.7,21.2 12.7,22.3 11.5,23.2 10.0,23.8 8.1,24.2 3.2,24.3 -0.6,24.3" fill="#b4b4b4"/><polygon points="-0.6,0.0 17.7,0.0 17.5,3.2 17.3,6.2 17.0,9.0 16.6,11.5 16.2,13.8 15.6,15.8 15.0,17.6 14.3,19.2 13.4,20.5 12.5,21.6 11.3,22.4 9.9,23.0 8.0,23.4 3.2,23.5 -0.6,23.5" fill="#b6b6b6"/><polygon points="-0.6,0.0 17.5,0.0 17.3,3.1 17.0,6.0 16.7,8.7 16.4,11.1 15.9,13.3 15.4,15.3 14.8,17.0 14.1,18.5 13.2,19.8 12.3,20.8 11.1,21.6 9.7,22.2 7.9,22.6 3.2,22.7 -0.6,22.7" fill="#b8b8b8"/><polygon points="-0.6,0.0 17.2,0.0 17.0,3.0 16.8,5.8 16.5,8.4 16.1,10.7 15.7,12.8 15.1,14.7 14.5,16.4 13.8,17.8 13.0,19.1 12.1,20.1 11.0,20.9 9.6,21.4 7.8,21.7 3.2,21.9 -0.6,21.9" fill="#bababa"/><polygon points="-0.6,0.0 16.9,0.0 16.7,2.9 16.5,5.6 16.2,8.0 15.8,10.3 15.4,12.3 14.9,14.2 14.3,15.8 13.6,17.2 12.8,18.3 11.9,19.3 10.8,20.1 9.5,20.6 7.7,20.9 3.2,21.0 -0.6,21.0" fill="#bcbcbc"/><polygon points="-0.6,0.0 16.7,0.0 16.5,2.8 16.2,5.4 15.9,7.7 15.6,9.9 15.1,11.8 14.6,13.6 14.0,15.1 13.4,16.5 12.6,17.6 11.7,18.5 10.6,19.3 9.3,19.8 7.6,20.1 3.2,20.2 -0.6,20.2" fill="#bebebe"/><polygon points="-0.6,0.0 16.4,0.0 16.2,2.7 16.0,5.1 15.7,7.4 15.3,9.5 14.9,11.3 14.4,13.0 13.8,14.5 13.1,15.8 12.4,16.9 11.5,17.8 10.4,18.4 9.2,18.9 7.5,19.2 3.2,19.3 -0.6,19.3" fill="#c0c0c0"/><polygon points="-0.6,0.0 16.1,0.0 15.9,2.5 15.7,4.9 15.4,7.1 15.0,9.0 14.6,10.8 14.1,12.4 13.5,13.8 12.9,15.1 12.1,16.1 11.3,17.0 10.3,17.6 9.0,18.1 7.4,18.4 3.2,18.5 -0.6,18.5" fill="#c2c2c2"/><polygon points="-0.6,0.0 15.8,0.0 15.6,2.4 15.4,4.7 15.1,6.7 14.7,8.6 14.3,10.3 13.8,11.8 13.3,13.2 12.6,14.4 11.9,15.3 11.1,16.1 10.1,16.8 8.9,17.2 7.3,17.5 3.2,17.6 -0.6,17.6" fill="#c4c4c4"/><polygon points="-0.6,0.0 15.5,0.0 15.3,2.3 15.1,4.4 14.8,6.4 14.4,8.2 14.0,9.8 13.5,11.2 13.0,12.5 12.4,13.6 11.7,14.6 10.8,15.3 9.9,15.9 8.7,16.3 7.1,16.6 3.2,16.7 -0.6,16.7" fill="#c6c6c6"/><polygon points="-0.6,0.0 15.2,0.0 15.0,2.2 14.8,4.2 14.5,6.0 14.1,7.7 13.7,9.3 13.3,10.6 12.7,11.8 12.1,12.9 11.4,13.8 10.6,14.5 9.7,15.1 8.5,15.5 7.0,15.7 3.2,15.8 -0.6,15.8" fill="#c8c8c8"/><polygon points="-0.6,0.0 14.9,0.0 14.7,2.0 14.5,3.9 14.2,5.7 13.8,7.3 13.4,8.7 13.0,10.0 12.4,11.1 11.9,12.1 11.2,13.0 10.4,13.6 9.5,14.2 8.4,14.5 6.9,14.8 3.2,14.8 -0.6,14.8" fill="#cacaca"/><polygon points="-0.6,0.0 14.6,0.0 14.4,1.9 14.1,3.7 13.9,5.3 13.5,6.8 13.1,8.2 12.7,9.4 12.2,10.4 11.6,11.4 10.9,12.1 10.2,12.8 9.3,13.3 8.2,13.6 6.8,13.8 3.2,13.9 -0.6,13.9" fill="#cccccc"/><polygon points="-0.6,0.0 14.3,0.0 14.1,1.8 13.8,3.4 13.5,5.0 13.2,6.3 12.8,7.6 12.4,8.7 11.9,9.7 11.3,10.6 10.7,11.3 9.9,11.9 9.1,12.3 8.0,12.7 6.7,12.9 3.2,12.9 -0.6,12.9" fill="#cecece"/><polygon points="-0.6,0.0 13.9,0.0 13.7,1.6 13.5,3.2 13.2,4.6 12.8,5.9 12.5,7.0 12.0,8.1 11.5,9.0 11.0,9.8 10.4,10.4 9.7,11.0 8.9,11.4 7.9,11.7 6.5,11.9 3.2,12.0 -0.6,12.0" fill="#d0d0d0"/><polygon points="-0.6,0.0 13.6,0.0 13.4,1.5 13.1,2.9 12.8,4.2 12.5,5.4 12.1,6.4 11.7,7.4 11.2,8.2 10.7,8.9 10.1,9.6 9.4,10.1 8.6,10.5 7.7,10.7 6.4,10.9 3.2,11.0 -0.6,11.0" fill="#d2d2d2"/><polygon points="-0.6,0.0 13.2,0.0 13.0,1.4 12.7,2.6 12.5,3.8 12.1,4.9 11.8,5.8 11.4,6.7 10.9,7.5 10.4,8.1 9.8,8.7 9.2,9.1 8.4,9.5 7.5,9.7 6.3,9.9 3.2,9.9 -0.6,9.9" fill="#d4d4d4"/><polygon points="-0.6,0.0 12.8,0.0 12.6,1.2 12.3,2.4 12.1,3.4 11.7,4.4 11.4,5.2 11.0,6.0 10.5,6.7 10.1,7.3 9.5,7.8 8.9,8.2 8.2,8.5 7.3,8.7 6.1,8.8 3.2,8.9 -0.6,8.9" fill="#d6d6d6"/><polygon points="-0.6,0.0 12.4,0.0 12.2,1.1 11.9,2.1 11.6,3.0 11.3,3.8 11.0,4.6 10.6,5.3 10.2,5.9 9.7,6.4 9.2,6.8 8.6,7.2 7.9,7.5 7.1,7.7 6.0,7.8 3.2,7.8 -0.6,7.8" fill="#d8d8d8"/><polygon points="-0.6,0.0 11.9,0.0 11.7,0.9 11.5,1.8 11.2,2.6 10.9,3.3 10.6,3.9 10.2,4.5 9.8,5.0 9.3,5.5 8.8,5.9 8.3,6.2 7.6,6.4 6.8,6.6 5.8,6.7 3.2,6.7 -0.6,6.7" fill="#dadada"/><polygon points="-0.6,0.0 11.4,0.0 11.2,0.8 11.0,1.5 10.7,2.1 10.4,2.7 10.1,3.3 9.7,3.8 9.4,4.2 8.9,4.6 8.5,4.9 7.9,5.1 7.3,5.3 6.6,5.5 5.6,5.6 3.2,5.6 -0.6,5.6" fill="#dcdcdc"/><polygon points="-0.6,0.0 10.9,0.0 10.7,0.6 10.4,1.2 10.2,1.7 9.9,2.2 9.6,2.6 9.3,3.0 8.9,3.3 8.5,3.6 8.1,3.9 7.6,4.1 7.0,4.2 6.3,4.4 5.4,4.4 3.2,4.4 -0.6,4.4" fill="#dedede"/><polygon points="-0.6,0.0 10.2,0.0 10.0,0.4 9.8,0.9 9.5,1.2 9.3,1.6 9.0,1.9 8.7,2.2 8.4,2.4 8.0,2.7 7.6,2.8 7.2,3.0 6.6,3.1 6.0,3.2 5.2,3.2 3.2,3.3 -0.6,3.3" fill="#e0e0e0"/><polygon points="-0.6,0.0 9.4,0.0 9.2,0.3 9.0,0.5 8.7,0.8 8.5,1.0 8.2,1.2 8.0,1.4 7.7,1.5 7.4,1.7 7.0,1.8 6.6,1.9 6.2,1.9 5.7,2.0 5.0,2.0 3.2,2.0 -0.6,2.0" fill="#e2e2e2"/><polygon points="-0.6,0.0 8.0,0.0 7.8,0.1 7.7,0.2 7.5,0.3 7.3,0.4 7.1,0.5 6.9,0.5 6.6,0.6 6.4,0.6 6.1,0.7 5.8,0.7 5.5,0.7 5.1,0.8 4.6,0.8 3.2,0.8 -0.6,0.8" fill="#e4e4e4"/></g><use href="#hf3" transform="translate(200.40,0) scale(-1,1)"/></g><rect x="78.6" y="52.6" width="43.20" height="34.10" fill="none" stroke="#000" stroke-width="2.2"/>
<rect x="149.6" y="52.6" width="317.2" height="34.1" fill="url(#hp)" stroke="#000" stroke-width="2.2" />
<g clip-path="url(#cp4)" shape-rendering="crispEdges"><rect x="487.5" y="52.6" width="43.20" height="34.10" fill="#737373"/><g id="hf4" transform="translate(509.10,52.6)"><polygon points="-0.6,0.0 22.0,0.0 22.0,2.4 22.0,4.9 22.0,7.3 22.0,9.7 22.0,12.2 22.0,14.6 22.0,17.1 22.0,19.5 22.0,21.9 22.0,24.4 22.0,26.8 22.0,29.2 21.9,31.7 21.3,34.1 -0.6,34.1" fill="#767676"/><polygon points="-0.6,0.0 22.0,0.0 22.0,2.4 22.0,4.9 22.0,7.3 22.0,9.7 22.0,12.2 22.0,14.6 22.0,17.1 22.0,19.5 22.0,21.9 22.0,24.4 22.0,26.8 22.0,29.2 21.7,31.7 21.0,34.1 -0.6,34.1" fill="#787878"/><polygon points="-0.6,0.0 22.0,0.0 22.0,2.4 22.0,4.9 22.0,7.3 22.0,9.7 22.0,12.2 22.0,14.6 22.0,17.1 22.0,19.5 22.0,21.9 22.0,24.4 22.0,26.8 21.9,29.2 21.4,31.7 20.7,34.1 -0.6,34.1" fill="#7a7a7a"/><polygon points="-0.6,0.0 22.0,0.0 22.0,2.4 22.0,4.9 22.0,7.3 22.0,9.7 22.0,12.2 22.0,14.6 22.0,17.1 22.0,19.5 22.0,21.9 22.0,24.4 22.0,26.8 21.7,29.2 21.1,31.7 20.3,34.1 -0.6,34.1" fill="#7c7c7c"/><polygon points="-0.6,0.0 22.0,0.0 22.0,2.4 22.0,4.9 22.0,7.3 22.0,9.7 22.0,12.2 22.0,14.6 22.0,17.1 22.0,19.5 22.0,21.9 22.0,24.4 21.9,26.8 21.4,29.2 20.8,31.7 20.0,34.1 -0.6,34.1" fill="#7e7e7e"/><polygon points="-0.6,0.0 22.0,0.0 22.0,2.4 22.0,4.9 22.0,7.3 22.0,9.7 22.0,12.2 22.0,14.6 22.0,17.1 22.0,19.5 22.0,21.9 22.0,24.4 21.6,26.8 21.1,29.2 20.5,31.7 19.6,34.1 -0.6,34.1" fill="#808080"/><polygon points="-0.6,0.0 22.0,0.0 22.0,2.4 22.0,4.9 22.0,7.3 22.0,9.7 22.0,12.2 22.0,14.6 22.0,17.1 22.0,19.5 22.0,21.9 21.8,24.4 21.4,26.8 20.8,29.2 20.2,31.7 19.3,34.1 -0.6,34.1" fill="#828282"/><polygon points="-0.6,0.0 22.0,0.0 22.0,2.4 22.0,4.9 22.0,7.3 22.0,9.7 22.0,12.2 22.0,14.6 22.0,17.1 22.0,19.5 21.9,21.9 21.5,24.4 21.1,26.8 20.5,29.2 19.8,31.7 18.9,34.1 -0.6,34.1" fill="#848484"/><polygon points="-0.6,0.0 22.0,0.0 22.0,2.4 22.0,4.9 22.0,7.3 22.0,9.7 22.0,12.2 22.0,14.6 22.0,17.1 21.9,19.5 21.6,21.9 21.3,24.4 20.8,26.8 20.2,29.2 19.5,31.7 18.4,34.1 -0.6,34.1" fill="#868686"/><polygon points="-0.6,0.0 22.0,0.0 22.0,2.4 22.0,4.9 22.0,7.3 22.0,9.7 22.0,12.2 22.0,14.6 22.0,17.1 21.7,19.5 21.4,21.9 21.0,24.4 20.5,26.8 19.9,29.2 19.1,31.7 18.0,34.1 -0.6,34.1" fill="#888888"/><polygon points="-0.6,0.0 22.0,0.0 22.0,2.4 22.0,4.9 22.0,7.3 22.0,9.7 22.0,12.2 21.9,14.6 21.7,17.1 21.5,19.5 21.2,21.9 20.8,24.4 20.2,26.8 19.6,29.2 18.7,31.7 17.5,34.1 -0.6,34.1" fill="#8a8a8a"/><polygon points="-0.6,0.0 22.0,0.0 22.0,2.4 22.0,4.9 22.0,7.3 22.0,9.7 21.9,12.2 21.7,14.6 21.5,17.1 21.2,19.5 20.9,21.9 20.5,24.4 19.9,26.8 19.3,29.2 18.3,31.7 17.0,34.1 -0.6,34.1" fill="#8c8c8c"/><polygon points="-0.6,0.0 22.0,0.0 22.0,2.4 22.0,4.9 21.9,7.3 21.8,9.7 21.7,12.2 21.5,14.6 21.3,17.1 21.0,19.5 20.6,21.9 20.2,24.4 19.6,26.8 18.9,29.2 17.9,31.7 16.4,34.1 -0.6,34.1" fill="#8e8e8e"/><polygon points="-0.6,0.0 22.0,0.0 21.9,2.4 21.8,4.9 21.7,7.3 21.6,9.7 21.5,12.2 21.3,14.6 21.0,17.1 20.7,19.5 20.4,21.9 19.9,24.4 19.3,26.8 18.5,29.2 17.4,31.7 15.7,34.1 -0.6,34.1" fill="#909090"/><polygon points="-0.6,0.0 21.8,0.0 21.7,2.4 21.6,4.9 21.5,7.3 21.4,9.7 21.2,12.2 21.0,14.6 20.8,17.1 20.5,19.5 20.1,21.9 19.6,24.4 19.0,26.8 18.1,29.2 16.9,31.7 15.0,34.1 -0.6,34.1" fill="#929292"/><polygon points="-0.6,0.0 21.6,0.0 21.5,2.4 21.4,4.9 21.3,7.3 21.2,9.7 21.0,12.2 20.8,14.6 20.6,17.1 20.2,19.5 19.8,21.9 19.3,24.4 18.6,26.8 17.7,29.2 16.4,31.7 14.0,34.1 -0.6,34.1" fill="#949494"/><polygon points="-0.6,0.0 21.3,0.0 21.3,2.4 21.2,4.9 21.1,7.3 21.0,9.7 20.8,12.2 20.6,14.6 20.3,17.1 20.0,19.5 19.5,21.9 19.0,24.4 18.3,26.8 17.3,29.2 15.8,31.7 12.8,34.1 -0.6,34.1" fill="#969696"/><polygon points="-0.6,0.0 21.1,0.0 21.1,2.4 21.0,4.9 20.9,7.3 20.7,9.7 20.6,12.2 20.3,14.6 20.1,17.1 19.7,19.5 19.3,21.9 18.7,24.4 17.9,26.8 16.8,29.2 15.1,31.7 10.7,34.1 -0.6,34.1" fill="#989898"/><polygon points="-0.6,0.0 20.9,0.0 20.8,4.7 20.6,9.0 20.3,12.9 19.9,16.6 19.4,19.8 18.8,22.8 18.0,25.4 17.2,27.6 16.1,29.5 14.9,31.1 13.5,32.3 11.7,33.1 9.3,33.7 3.2,33.8 -0.6,33.8" fill="#9a9a9a"/><polygon points="-0.6,0.0 20.7,0.0 20.6,4.6 20.3,8.8 20.0,12.7 19.6,16.2 19.2,19.4 18.5,22.3 17.8,24.9 17.0,27.1 15.9,28.9 14.7,30.4 13.3,31.6 11.5,32.5 9.2,33.0 3.2,33.1 -0.6,33.1" fill="#9c9c9c"/><polygon points="-0.6,0.0 20.5,0.0 20.3,4.5 20.1,8.6 19.8,12.4 19.4,15.9 18.9,19.0 18.3,21.8 17.6,24.3 16.8,26.5 15.8,28.3 14.6,29.8 13.2,31.0 11.4,31.8 9.1,32.3 3.2,32.4 -0.6,32.4" fill="#9e9e9e"/><polygon points="-0.6,0.0 20.3,0.0 20.1,4.4 19.9,8.4 19.6,12.1 19.2,15.5 18.7,18.6 18.1,21.4 17.4,23.8 16.6,25.9 15.6,27.7 14.4,29.1 13.0,30.3 11.3,31.1 9.0,31.6 3.2,31.7 -0.6,31.7" fill="#a0a0a0"/><polygon points="-0.6,0.0 20.1,0.0 19.9,4.3 19.7,8.2 19.4,11.9 19.0,15.2 18.5,18.2 17.9,20.9 17.2,23.3 16.4,25.3 15.4,27.1 14.3,28.5 12.9,29.6 11.2,30.4 8.9,30.9 3.2,31.0 -0.6,31.0" fill="#a2a2a2"/><polygon points="-0.6,0.0 19.8,0.0 19.7,4.2 19.5,8.0 19.1,11.6 18.8,14.8 18.3,17.8 17.7,20.4 17.0,22.7 16.2,24.7 15.2,26.4 14.1,27.8 12.7,28.9 11.1,29.7 8.8,30.2 3.2,30.3 -0.6,30.3" fill="#a4a4a4"/><polygon points="-0.6,0.0 19.6,0.0 19.5,4.1 19.2,7.9 18.9,11.3 18.5,14.5 18.1,17.4 17.5,19.9 16.8,22.2 16.0,24.2 15.0,25.8 13.9,27.2 12.6,28.2 10.9,29.0 8.7,29.4 3.2,29.6 -0.6,29.6" fill="#a6a6a6"/><polygon points="-0.6,0.0 19.4,0.0 19.2,4.0 19.0,7.7 18.7,11.0 18.3,14.1 17.8,16.9 17.3,19.4 16.6,21.6 15.8,23.6 14.8,25.2 13.7,26.5 12.4,27.5 10.8,28.3 8.6,28.7 3.2,28.9 -0.6,28.9" fill="#a8a8a8"/><polygon points="-0.6,0.0 19.2,0.0 19.0,3.9 18.8,7.5 18.5,10.8 18.1,13.8 17.6,16.5 17.0,18.9 16.4,21.1 15.6,23.0 14.6,24.5 13.6,25.8 12.3,26.8 10.7,27.5 8.6,28.0 3.2,28.1 -0.6,28.1" fill="#aaaaaa"/><polygon points="-0.6,0.0 18.9,0.0 18.8,3.8 18.5,7.3 18.2,10.5 17.8,13.4 17.4,16.1 16.8,18.4 16.1,20.5 15.4,22.3 14.5,23.9 13.4,25.1 12.1,26.1 10.6,26.8 8.5,27.2 3.2,27.4 -0.6,27.4" fill="#acacac"/><polygon points="-0.6,0.0 18.7,0.0 18.5,3.7 18.3,7.1 18.0,10.2 17.6,13.0 17.1,15.6 16.6,17.9 15.9,20.0 15.2,21.7 14.3,23.2 13.2,24.4 12.0,25.4 10.4,26.1 8.4,26.5 3.2,26.6 -0.6,26.6" fill="#aeaeae"/><polygon points="-0.6,0.0 18.4,0.0 18.3,3.6 18.0,6.9 17.7,9.9 17.4,12.7 16.9,15.2 16.4,17.4 15.7,19.4 14.9,21.1 14.1,22.5 13.0,23.7 11.8,24.7 10.3,25.3 8.3,25.7 3.2,25.8 -0.6,25.8" fill="#b0b0b0"/><polygon points="-0.6,0.0 18.2,0.0 18.0,3.5 17.8,6.7 17.5,9.6 17.1,12.3 16.7,14.7 16.1,16.9 15.5,18.8 14.7,20.5 13.9,21.9 12.8,23.0 11.6,23.9 10.2,24.6 8.2,24.9 3.2,25.1 -0.6,25.1" fill="#b2b2b2"/><polygon points="-0.6,0.0 18.0,0.0 17.8,3.3 17.5,6.4 17.2,9.3 16.9,11.9 16.4,14.2 15.9,16.4 15.2,18.2 14.5,19.8 13.7,21.2 12.7,22.3 11.5,23.2 10.0,23.8 8.1,24.2 3.2,24.3 -0.6,24.3" fill="#b4b4b4"/><polygon points="-0.6,0.0 17.7,0.0 17.5,3.2 17.3,6.2 17.0,9.0 16.6,11.5 16.2,13.8 15.6,15.8 15.0,17.6 14.3,19.2 13.4,20.5 12.5,21.6 11.3,22.4 9.9,23.0 8.0,23.4 3.2,23.5 -0.6,23.5" fill="#b6b6b6"/><polygon points="-0.6,0.0 17.5,0.0 17.3,3.1 17.0,6.0 16.7,8.7 16.4,11.1 15.9,13.3 15.4,15.3 14.8,17.0 14.1,18.5 13.2,19.8 12.3,20.8 11.1,21.6 9.7,22.2 7.9,22.6 3.2,22.7 -0.6,22.7" fill="#b8b8b8"/><polygon points="-0.6,0.0 17.2,0.0 17.0,3.0 16.8,5.8 16.5,8.4 16.1,10.7 15.7,12.8 15.1,14.7 14.5,16.4 13.8,17.8 13.0,19.1 12.1,20.1 11.0,20.9 9.6,21.4 7.8,21.7 3.2,21.9 -0.6,21.9" fill="#bababa"/><polygon points="-0.6,0.0 16.9,0.0 16.7,2.9 16.5,5.6 16.2,8.0 15.8,10.3 15.4,12.3 14.9,14.2 14.3,15.8 13.6,17.2 12.8,18.3 11.9,19.3 10.8,20.1 9.5,20.6 7.7,20.9 3.2,21.0 -0.6,21.0" fill="#bcbcbc"/><polygon points="-0.6,0.0 16.7,0.0 16.5,2.8 16.2,5.4 15.9,7.7 15.6,9.9 15.1,11.8 14.6,13.6 14.0,15.1 13.4,16.5 12.6,17.6 11.7,18.5 10.6,19.3 9.3,19.8 7.6,20.1 3.2,20.2 -0.6,20.2" fill="#bebebe"/><polygon points="-0.6,0.0 16.4,0.0 16.2,2.7 16.0,5.1 15.7,7.4 15.3,9.5 14.9,11.3 14.4,13.0 13.8,14.5 13.1,15.8 12.4,16.9 11.5,17.8 10.4,18.4 9.2,18.9 7.5,19.2 3.2,19.3 -0.6,19.3" fill="#c0c0c0"/><polygon points="-0.6,0.0 16.1,0.0 15.9,2.5 15.7,4.9 15.4,7.1 15.0,9.0 14.6,10.8 14.1,12.4 13.5,13.8 12.9,15.1 12.1,16.1 11.3,17.0 10.3,17.6 9.0,18.1 7.4,18.4 3.2,18.5 -0.6,18.5" fill="#c2c2c2"/><polygon points="-0.6,0.0 15.8,0.0 15.6,2.4 15.4,4.7 15.1,6.7 14.7,8.6 14.3,10.3 13.8,11.8 13.3,13.2 12.6,14.4 11.9,15.3 11.1,16.1 10.1,16.8 8.9,17.2 7.3,17.5 3.2,17.6 -0.6,17.6" fill="#c4c4c4"/><polygon points="-0.6,0.0 15.5,0.0 15.3,2.3 15.1,4.4 14.8,6.4 14.4,8.2 14.0,9.8 13.5,11.2 13.0,12.5 12.4,13.6 11.7,14.6 10.8,15.3 9.9,15.9 8.7,16.3 7.1,16.6 3.2,16.7 -0.6,16.7" fill="#c6c6c6"/><polygon points="-0.6,0.0 15.2,0.0 15.0,2.2 14.8,4.2 14.5,6.0 14.1,7.7 13.7,9.3 13.3,10.6 12.7,11.8 12.1,12.9 11.4,13.8 10.6,14.5 9.7,15.1 8.5,15.5 7.0,15.7 3.2,15.8 -0.6,15.8" fill="#c8c8c8"/><polygon points="-0.6,0.0 14.9,0.0 14.7,2.0 14.5,3.9 14.2,5.7 13.8,7.3 13.4,8.7 13.0,10.0 12.4,11.1 11.9,12.1 11.2,13.0 10.4,13.6 9.5,14.2 8.4,14.5 6.9,14.8 3.2,14.8 -0.6,14.8" fill="#cacaca"/><polygon points="-0.6,0.0 14.6,0.0 14.4,1.9 14.1,3.7 13.9,5.3 13.5,6.8 13.1,8.2 12.7,9.4 12.2,10.4 11.6,11.4 10.9,12.1 10.2,12.8 9.3,13.3 8.2,13.6 6.8,13.8 3.2,13.9 -0.6,13.9" fill="#cccccc"/><polygon points="-0.6,0.0 14.3,0.0 14.1,1.8 13.8,3.4 13.5,5.0 13.2,6.3 12.8,7.6 12.4,8.7 11.9,9.7 11.3,10.6 10.7,11.3 9.9,11.9 9.1,12.3 8.0,12.7 6.7,12.9 3.2,12.9 -0.6,12.9" fill="#cecece"/><polygon points="-0.6,0.0 13.9,0.0 13.7,1.6 13.5,3.2 13.2,4.6 12.8,5.9 12.5,7.0 12.0,8.1 11.5,9.0 11.0,9.8 10.4,10.4 9.7,11.0 8.9,11.4 7.9,11.7 6.5,11.9 3.2,12.0 -0.6,12.0" fill="#d0d0d0"/><polygon points="-0.6,0.0 13.6,0.0 13.4,1.5 13.1,2.9 12.8,4.2 12.5,5.4 12.1,6.4 11.7,7.4 11.2,8.2 10.7,8.9 10.1,9.6 9.4,10.1 8.6,10.5 7.7,10.7 6.4,10.9 3.2,11.0 -0.6,11.0" fill="#d2d2d2"/><polygon points="-0.6,0.0 13.2,0.0 13.0,1.4 12.7,2.6 12.5,3.8 12.1,4.9 11.8,5.8 11.4,6.7 10.9,7.5 10.4,8.1 9.8,8.7 9.2,9.1 8.4,9.5 7.5,9.7 6.3,9.9 3.2,9.9 -0.6,9.9" fill="#d4d4d4"/><polygon points="-0.6,0.0 12.8,0.0 12.6,1.2 12.3,2.4 12.1,3.4 11.7,4.4 11.4,5.2 11.0,6.0 10.5,6.7 10.1,7.3 9.5,7.8 8.9,8.2 8.2,8.5 7.3,8.7 6.1,8.8 3.2,8.9 -0.6,8.9" fill="#d6d6d6"/><polygon points="-0.6,0.0 12.4,0.0 12.2,1.1 11.9,2.1 11.6,3.0 11.3,3.8 11.0,4.6 10.6,5.3 10.2,5.9 9.7,6.4 9.2,6.8 8.6,7.2 7.9,7.5 7.1,7.7 6.0,7.8 3.2,7.8 -0.6,7.8" fill="#d8d8d8"/><polygon points="-0.6,0.0 11.9,0.0 11.7,0.9 11.5,1.8 11.2,2.6 10.9,3.3 10.6,3.9 10.2,4.5 9.8,5.0 9.3,5.5 8.8,5.9 8.3,6.2 7.6,6.4 6.8,6.6 5.8,6.7 3.2,6.7 -0.6,6.7" fill="#dadada"/><polygon points="-0.6,0.0 11.4,0.0 11.2,0.8 11.0,1.5 10.7,2.1 10.4,2.7 10.1,3.3 9.7,3.8 9.4,4.2 8.9,4.6 8.5,4.9 7.9,5.1 7.3,5.3 6.6,5.5 5.6,5.6 3.2,5.6 -0.6,5.6" fill="#dcdcdc"/><polygon points="-0.6,0.0 10.9,0.0 10.7,0.6 10.4,1.2 10.2,1.7 9.9,2.2 9.6,2.6 9.3,3.0 8.9,3.3 8.5,3.6 8.1,3.9 7.6,4.1 7.0,4.2 6.3,4.4 5.4,4.4 3.2,4.4 -0.6,4.4" fill="#dedede"/><polygon points="-0.6,0.0 10.2,0.0 10.0,0.4 9.8,0.9 9.5,1.2 9.3,1.6 9.0,1.9 8.7,2.2 8.4,2.4 8.0,2.7 7.6,2.8 7.2,3.0 6.6,3.1 6.0,3.2 5.2,3.2 3.2,3.3 -0.6,3.3" fill="#e0e0e0"/><polygon points="-0.6,0.0 9.4,0.0 9.2,0.3 9.0,0.5 8.7,0.8 8.5,1.0 8.2,1.2 8.0,1.4 7.7,1.5 7.4,1.7 7.0,1.8 6.6,1.9 6.2,1.9 5.7,2.0 5.0,2.0 3.2,2.0 -0.6,2.0" fill="#e2e2e2"/><polygon points="-0.6,0.0 8.0,0.0 7.8,0.1 7.7,0.2 7.5,0.3 7.3,0.4 7.1,0.5 6.9,0.5 6.6,0.6 6.4,0.6 6.1,0.7 5.8,0.7 5.5,0.7 5.1,0.8 4.6,0.8 3.2,0.8 -0.6,0.8" fill="#e4e4e4"/></g><use href="#hf4" transform="translate(1018.20,0) scale(-1,1)"/></g><rect x="487.5" y="52.6" width="43.20" height="34.10" fill="none" stroke="#000" stroke-width="2.2"/>
<g clip-path="url(#cp5)" shape-rendering="crispEdges"><rect x="540.4" y="52.6" width="43.30" height="34.10" fill="#737373"/><g id="hf5" transform="translate(562.05,52.6)"><polygon points="-0.6,0.0 22.1,0.0 22.1,2.4 22.1,4.9 22.1,7.3 22.1,9.7 22.1,12.2 22.1,14.6 22.1,17.1 22.1,19.5 22.1,21.9 22.1,24.4 22.1,26.8 22.1,29.2 22.0,31.7 21.4,34.1 -0.6,34.1" fill="#767676"/><polygon points="-0.6,0.0 22.1,0.0 22.1,2.4 22.1,4.9 22.1,7.3 22.1,9.7 22.1,12.2 22.1,14.6 22.1,17.1 22.1,19.5 22.1,21.9 22.1,24.4 22.1,26.8 22.1,29.2 21.7,31.7 21.0,34.1 -0.6,34.1" fill="#787878"/><polygon points="-0.6,0.0 22.1,0.0 22.1,2.4 22.1,4.9 22.1,7.3 22.1,9.7 22.1,12.2 22.1,14.6 22.1,17.1 22.1,19.5 22.1,21.9 22.1,24.4 22.1,26.8 22.0,29.2 21.4,31.7 20.7,34.1 -0.6,34.1" fill="#7a7a7a"/><polygon points="-0.6,0.0 22.1,0.0 22.1,2.4 22.1,4.9 22.1,7.3 22.1,9.7 22.1,12.2 22.1,14.6 22.1,17.1 22.1,19.5 22.1,21.9 22.1,24.4 22.1,26.8 21.7,29.2 21.1,31.7 20.4,34.1 -0.6,34.1" fill="#7c7c7c"/><polygon points="-0.6,0.0 22.1,0.0 22.1,2.4 22.1,4.9 22.1,7.3 22.1,9.7 22.1,12.2 22.1,14.6 22.1,17.1 22.1,19.5 22.1,21.9 22.1,24.4 21.9,26.8 21.4,29.2 20.8,31.7 20.0,34.1 -0.6,34.1" fill="#7e7e7e"/><polygon points="-0.6,0.0 22.1,0.0 22.1,2.4 22.1,4.9 22.1,7.3 22.1,9.7 22.1,12.2 22.1,14.6 22.1,17.1 22.1,19.5 22.1,21.9 22.1,24.4 21.7,26.8 21.2,29.2 20.5,31.7 19.7,34.1 -0.6,34.1" fill="#808080"/><polygon points="-0.6,0.0 22.1,0.0 22.1,2.4 22.1,4.9 22.1,7.3 22.1,9.7 22.1,12.2 22.1,14.6 22.1,17.1 22.1,19.5 22.1,21.9 21.8,24.4 21.4,26.8 20.9,29.2 20.2,31.7 19.3,34.1 -0.6,34.1" fill="#828282"/><polygon points="-0.6,0.0 22.1,0.0 22.1,2.4 22.1,4.9 22.1,7.3 22.1,9.7 22.1,12.2 22.1,14.6 22.1,17.1 22.1,19.5 21.9,21.9 21.6,24.4 21.1,26.8 20.6,29.2 19.9,31.7 18.9,34.1 -0.6,34.1" fill="#848484"/><polygon points="-0.6,0.0 22.1,0.0 22.1,2.4 22.1,4.9 22.1,7.3 22.1,9.7 22.1,12.2 22.1,14.6 22.1,17.1 22.0,19.5 21.7,21.9 21.3,24.4 20.9,26.8 20.3,29.2 19.5,31.7 18.5,34.1 -0.6,34.1" fill="#868686"/><polygon points="-0.6,0.0 22.1,0.0 22.1,2.4 22.1,4.9 22.1,7.3 22.1,9.7 22.1,12.2 22.1,14.6 22.0,17.1 21.8,19.5 21.5,21.9 21.1,24.4 20.6,26.8 20.0,29.2 19.2,31.7 18.0,34.1 -0.6,34.1" fill="#888888"/><polygon points="-0.6,0.0 22.1,0.0 22.1,2.4 22.1,4.9 22.1,7.3 22.1,9.7 22.1,12.2 22.0,14.6 21.8,17.1 21.5,19.5 21.2,21.9 20.8,24.4 20.3,26.8 19.6,29.2 18.8,31.7 17.5,34.1 -0.6,34.1" fill="#8a8a8a"/><polygon points="-0.6,0.0 22.1,0.0 22.1,2.4 22.1,4.9 22.1,7.3 22.1,9.7 21.9,12.2 21.8,14.6 21.6,17.1 21.3,19.5 20.9,21.9 20.5,24.4 20.0,26.8 19.3,29.2 18.4,31.7 17.0,34.1 -0.6,34.1" fill="#8c8c8c"/><polygon points="-0.6,0.0 22.1,0.0 22.1,2.4 22.1,4.9 22.0,7.3 21.9,9.7 21.7,12.2 21.5,14.6 21.3,17.1 21.0,19.5 20.7,21.9 20.2,24.4 19.7,26.8 18.9,29.2 17.9,31.7 16.4,34.1 -0.6,34.1" fill="#8e8e8e"/><polygon points="-0.6,0.0 22.0,0.0 22.0,2.4 21.9,4.9 21.8,7.3 21.7,9.7 21.5,12.2 21.3,14.6 21.1,17.1 20.8,19.5 20.4,21.9 20.0,24.4 19.4,26.8 18.6,29.2 17.5,31.7 15.8,34.1 -0.6,34.1" fill="#909090"/><polygon points="-0.6,0.0 21.8,0.0 21.8,2.4 21.7,4.9 21.6,7.3 21.4,9.7 21.3,12.2 21.1,14.6 20.8,17.1 20.5,19.5 20.2,21.9 19.7,24.4 19.0,26.8 18.2,29.2 17.0,31.7 15.0,34.1 -0.6,34.1" fill="#929292"/><polygon points="-0.6,0.0 21.6,0.0 21.5,2.4 21.5,4.9 21.4,7.3 21.2,9.7 21.1,12.2 20.9,14.6 20.6,17.1 20.3,19.5 19.9,21.9 19.4,24.4 18.7,26.8 17.8,29.2 16.4,31.7 14.1,34.1 -0.6,34.1" fill="#949494"/><polygon points="-0.6,0.0 21.4,0.0 21.3,2.4 21.2,4.9 21.1,7.3 21.0,9.7 20.8,12.2 20.6,14.6 20.4,17.1 20.0,19.5 19.6,21.9 19.0,24.4 18.3,26.8 17.3,29.2 15.8,31.7 12.8,34.1 -0.6,34.1" fill="#969696"/><polygon points="-0.6,0.0 21.2,0.0 21.1,2.4 21.0,4.9 20.9,7.3 20.8,9.7 20.6,12.2 20.4,14.6 20.1,17.1 19.7,19.5 19.3,21.9 18.7,24.4 17.9,26.8 16.9,29.2 15.1,31.7 10.7,34.1 -0.6,34.1" fill="#989898"/><polygon points="-0.6,0.0 21.0,0.0 20.8,4.7 20.6,9.0 20.3,12.9 19.9,16.6 19.4,19.8 18.8,22.8 18.1,25.4 17.2,27.6 16.2,29.5 14.9,31.1 13.5,32.3 11.7,33.1 9.3,33.7 3.2,33.8 -0.6,33.8" fill="#9a9a9a"/><polygon points="-0.6,0.0 20.8,0.0 20.6,4.6 20.4,8.8 20.1,12.7 19.7,16.2 19.2,19.4 18.6,22.3 17.9,24.9 17.0,27.1 16.0,28.9 14.8,30.4 13.3,31.6 11.6,32.5 9.2,33.0 3.2,33.1 -0.6,33.1" fill="#9c9c9c"/><polygon points="-0.6,0.0 20.5,0.0 20.4,4.5 20.2,8.6 19.9,12.4 19.5,15.9 19.0,19.0 18.4,21.8 17.7,24.3 16.8,26.5 15.8,28.3 14.6,29.8 13.2,31.0 11.5,31.8 9.1,32.3 3.2,32.4 -0.6,32.4" fill="#9e9e9e"/><polygon points="-0.6,0.0 20.3,0.0 20.2,4.4 19.9,8.4 19.6,12.1 19.3,15.5 18.8,18.6 18.2,21.4 17.5,23.8 16.6,25.9 15.6,27.7 14.5,29.1 13.1,30.3 11.3,31.1 9.0,31.6 3.2,31.7 -0.6,31.7" fill="#a0a0a0"/><polygon points="-0.6,0.0 20.1,0.0 19.9,4.3 19.7,8.2 19.4,11.9 19.0,15.2 18.5,18.2 18.0,20.9 17.3,23.3 16.4,25.3 15.4,27.1 14.3,28.5 12.9,29.6 11.2,30.4 8.9,30.9 3.2,31.0 -0.6,31.0" fill="#a2a2a2"/><polygon points="-0.6,0.0 19.9,0.0 19.7,4.2 19.5,8.0 19.2,11.6 18.8,14.8 18.3,17.8 17.7,20.4 17.0,22.7 16.2,24.7 15.3,26.4 14.1,27.8 12.8,28.9 11.1,29.7 8.8,30.2 3.2,30.3 -0.6,30.3" fill="#a4a4a4"/><polygon points="-0.6,0.0 19.7,0.0 19.5,4.1 19.3,7.9 19.0,11.3 18.6,14.5 18.1,17.4 17.5,19.9 16.8,22.2 16.0,24.2 15.1,25.8 13.9,27.2 12.6,28.2 11.0,29.0 8.8,29.4 3.2,29.6 -0.6,29.6" fill="#a6a6a6"/><polygon points="-0.6,0.0 19.4,0.0 19.3,4.0 19.0,7.7 18.7,11.0 18.3,14.1 17.9,16.9 17.3,19.4 16.6,21.6 15.8,23.6 14.9,25.2 13.8,26.5 12.5,27.5 10.8,28.3 8.7,28.7 3.2,28.9 -0.6,28.9" fill="#a8a8a8"/><polygon points="-0.6,0.0 19.2,0.0 19.0,3.9 18.8,7.5 18.5,10.8 18.1,13.8 17.6,16.5 17.1,18.9 16.4,21.1 15.6,23.0 14.7,24.5 13.6,25.8 12.3,26.8 10.7,27.5 8.6,28.0 3.2,28.1 -0.6,28.1" fill="#aaaaaa"/><polygon points="-0.6,0.0 19.0,0.0 18.8,3.8 18.6,7.3 18.3,10.5 17.9,13.4 17.4,16.1 16.9,18.4 16.2,20.5 15.4,22.3 14.5,23.9 13.4,25.1 12.1,26.1 10.6,26.8 8.5,27.2 3.2,27.4 -0.6,27.4" fill="#acacac"/><polygon points="-0.6,0.0 18.7,0.0 18.6,3.7 18.3,7.1 18.0,10.2 17.6,13.0 17.2,15.6 16.6,17.9 16.0,20.0 15.2,21.7 14.3,23.2 13.2,24.4 12.0,25.4 10.4,26.1 8.4,26.5 3.2,26.6 -0.6,26.6" fill="#aeaeae"/><polygon points="-0.6,0.0 18.5,0.0 18.3,3.6 18.1,6.9 17.8,9.9 17.4,12.7 16.9,15.2 16.4,17.4 15.7,19.4 15.0,21.1 14.1,22.5 13.1,23.7 11.8,24.7 10.3,25.3 8.3,25.7 3.2,25.8 -0.6,25.8" fill="#b0b0b0"/><polygon points="-0.6,0.0 18.2,0.0 18.1,3.5 17.8,6.7 17.5,9.6 17.2,12.3 16.7,14.7 16.2,16.9 15.5,18.8 14.8,20.5 13.9,21.9 12.9,23.0 11.7,23.9 10.2,24.6 8.2,24.9 3.2,25.1 -0.6,25.1" fill="#b2b2b2"/><polygon points="-0.6,0.0 18.0,0.0 17.8,3.3 17.6,6.4 17.3,9.3 16.9,11.9 16.5,14.2 15.9,16.4 15.3,18.2 14.5,19.8 13.7,21.2 12.7,22.3 11.5,23.2 10.0,23.8 8.1,24.2 3.2,24.3 -0.6,24.3" fill="#b4b4b4"/><polygon points="-0.6,0.0 17.8,0.0 17.6,3.2 17.3,6.2 17.0,9.0 16.7,11.5 16.2,13.8 15.7,15.8 15.0,17.6 14.3,19.2 13.5,20.5 12.5,21.6 11.3,22.4 9.9,23.0 8.0,23.4 3.3,23.5 -0.6,23.5" fill="#b6b6b6"/><polygon points="-0.6,0.0 17.5,0.0 17.3,3.1 17.1,6.0 16.8,8.7 16.4,11.1 16.0,13.3 15.4,15.3 14.8,17.0 14.1,18.5 13.3,19.8 12.3,20.8 11.2,21.6 9.8,22.2 7.9,22.6 3.2,22.7 -0.6,22.7" fill="#b8b8b8"/><polygon points="-0.6,0.0 17.2,0.0 17.1,3.0 16.8,5.8 16.5,8.4 16.1,10.7 15.7,12.8 15.2,14.7 14.6,16.4 13.9,17.8 13.1,19.1 12.1,20.1 11.0,20.9 9.6,21.4 7.8,21.7 3.2,21.9 -0.6,21.9" fill="#bababa"/><polygon points="-0.6,0.0 17.0,0.0 16.8,2.9 16.5,5.6 16.2,8.0 15.9,10.3 15.4,12.3 14.9,14.2 14.3,15.8 13.6,17.2 12.8,18.3 11.9,19.3 10.8,20.1 9.5,20.6 7.7,20.9 3.2,21.0 -0.6,21.0" fill="#bcbcbc"/><polygon points="-0.6,0.0 16.7,0.0 16.5,2.8 16.3,5.4 16.0,7.7 15.6,9.9 15.2,11.8 14.7,13.6 14.1,15.1 13.4,16.5 12.6,17.6 11.7,18.5 10.6,19.3 9.3,19.8 7.6,20.1 3.2,20.2 -0.6,20.2" fill="#bebebe"/><polygon points="-0.6,0.0 16.4,0.0 16.2,2.7 16.0,5.1 15.7,7.4 15.3,9.5 14.9,11.3 14.4,13.0 13.8,14.5 13.2,15.8 12.4,16.9 11.5,17.8 10.5,18.4 9.2,18.9 7.5,19.2 3.2,19.3 -0.6,19.3" fill="#c0c0c0"/><polygon points="-0.6,0.0 16.2,0.0 16.0,2.5 15.7,4.9 15.4,7.1 15.0,9.0 14.6,10.8 14.1,12.4 13.6,13.8 12.9,15.1 12.2,16.1 11.3,17.0 10.3,17.6 9.0,18.1 7.4,18.4 3.2,18.5 -0.6,18.5" fill="#c2c2c2"/><polygon points="-0.6,0.0 15.9,0.0 15.7,2.4 15.4,4.7 15.1,6.7 14.8,8.6 14.3,10.3 13.9,11.8 13.3,13.2 12.7,14.4 11.9,15.3 11.1,16.1 10.1,16.8 8.9,17.2 7.3,17.5 3.2,17.6 -0.6,17.6" fill="#c4c4c4"/><polygon points="-0.6,0.0 15.6,0.0 15.4,2.3 15.1,4.4 14.8,6.4 14.5,8.2 14.1,9.8 13.6,11.2 13.0,12.5 12.4,13.6 11.7,14.6 10.9,15.3 9.9,15.9 8.7,16.3 7.2,16.6 3.2,16.7 -0.6,16.7" fill="#c6c6c6"/><polygon points="-0.6,0.0 15.3,0.0 15.1,2.2 14.8,4.2 14.5,6.0 14.2,7.7 13.8,9.3 13.3,10.6 12.8,11.8 12.1,12.9 11.5,13.8 10.6,14.5 9.7,15.1 8.6,15.5 7.0,15.7 3.2,15.8 -0.6,15.8" fill="#c8c8c8"/><polygon points="-0.6,0.0 15.0,0.0 14.8,2.0 14.5,3.9 14.2,5.7 13.9,7.3 13.5,8.7 13.0,10.0 12.5,11.1 11.9,12.1 11.2,13.0 10.4,13.6 9.5,14.2 8.4,14.5 6.9,14.8 3.2,14.8 -0.6,14.8" fill="#cacaca"/><polygon points="-0.6,0.0 14.6,0.0 14.4,1.9 14.2,3.7 13.9,5.3 13.5,6.8 13.1,8.2 12.7,9.4 12.2,10.4 11.6,11.4 10.9,12.1 10.2,12.8 9.3,13.3 8.2,13.6 6.8,13.8 3.2,13.9 -0.6,13.9" fill="#cccccc"/><polygon points="-0.6,0.0 14.3,0.0 14.1,1.8 13.8,3.4 13.6,5.0 13.2,6.3 12.8,7.6 12.4,8.7 11.9,9.7 11.3,10.6 10.7,11.3 10.0,11.9 9.1,12.3 8.1,12.7 6.7,12.9 3.2,12.9 -0.6,12.9" fill="#cecece"/><polygon points="-0.6,0.0 14.0,0.0 13.8,1.6 13.5,3.2 13.2,4.6 12.9,5.9 12.5,7.0 12.1,8.1 11.6,9.0 11.0,9.8 10.4,10.4 9.7,11.0 8.9,11.4 7.9,11.7 6.5,11.9 3.2,12.0 -0.6,12.0" fill="#d0d0d0"/><polygon points="-0.6,0.0 13.6,0.0 13.4,1.5 13.1,2.9 12.9,4.2 12.5,5.4 12.1,6.4 11.7,7.4 11.3,8.2 10.7,8.9 10.1,9.6 9.4,10.1 8.7,10.5 7.7,10.7 6.4,10.9 3.2,11.0 -0.6,11.0" fill="#d2d2d2"/><polygon points="-0.6,0.0 13.2,0.0 13.0,1.4 12.8,2.6 12.5,3.8 12.2,4.9 11.8,5.8 11.4,6.7 10.9,7.5 10.4,8.1 9.8,8.7 9.2,9.1 8.4,9.5 7.5,9.7 6.3,9.9 3.2,9.9 -0.6,9.9" fill="#d4d4d4"/><polygon points="-0.6,0.0 12.9,0.0 12.6,1.2 12.4,2.4 12.1,3.4 11.8,4.4 11.4,5.2 11.0,6.0 10.6,6.7 10.1,7.3 9.5,7.8 8.9,8.2 8.2,8.5 7.3,8.7 6.1,8.8 3.2,8.9 -0.6,8.9" fill="#d6d6d6"/><polygon points="-0.6,0.0 12.4,0.0 12.2,1.1 12.0,2.1 11.7,3.0 11.4,3.8 11.0,4.6 10.6,5.3 10.2,5.9 9.7,6.4 9.2,6.8 8.6,7.2 7.9,7.5 7.1,7.7 6.0,7.8 3.2,7.8 -0.6,7.8" fill="#d8d8d8"/><polygon points="-0.6,0.0 12.0,0.0 11.7,0.9 11.5,1.8 11.2,2.6 10.9,3.3 10.6,3.9 10.2,4.5 9.8,5.0 9.4,5.5 8.9,5.9 8.3,6.2 7.6,6.4 6.9,6.6 5.8,6.7 3.2,6.7 -0.6,6.7" fill="#dadada"/><polygon points="-0.6,0.0 11.5,0.0 11.3,0.8 11.0,1.5 10.7,2.1 10.4,2.7 10.1,3.3 9.8,3.8 9.4,4.2 9.0,4.6 8.5,4.9 8.0,5.1 7.4,5.3 6.6,5.5 5.6,5.6 3.2,5.6 -0.6,5.6" fill="#dcdcdc"/><polygon points="-0.6,0.0 10.9,0.0 10.7,0.6 10.4,1.2 10.2,1.7 9.9,2.2 9.6,2.6 9.3,3.0 8.9,3.3 8.5,3.6 8.1,3.9 7.6,4.1 7.0,4.2 6.4,4.4 5.5,4.4 3.2,4.4 -0.6,4.4" fill="#dedede"/><polygon points="-0.6,0.0 10.2,0.0 10.0,0.4 9.8,0.9 9.6,1.2 9.3,1.6 9.0,1.9 8.7,2.2 8.4,2.4 8.0,2.7 7.6,2.8 7.2,3.0 6.7,3.1 6.0,3.2 5.2,3.2 3.2,3.3 -0.6,3.3" fill="#e0e0e0"/><polygon points="-0.6,0.0 9.4,0.0 9.2,0.3 9.0,0.5 8.7,0.8 8.5,1.0 8.3,1.2 8.0,1.4 7.7,1.5 7.4,1.7 7.0,1.8 6.6,1.9 6.2,1.9 5.7,2.0 5.0,2.0 3.2,2.0 -0.6,2.0" fill="#e2e2e2"/><polygon points="-0.6,0.0 8.0,0.0 7.8,0.1 7.7,0.2 7.5,0.3 7.3,0.4 7.1,0.5 6.9,0.5 6.7,0.6 6.4,0.6 6.1,0.7 5.8,0.7 5.5,0.7 5.1,0.8 4.6,0.8 3.2,0.8 -0.6,0.8" fill="#e4e4e4"/></g><use href="#hf5" transform="translate(1124.10,0) scale(-1,1)"/></g><rect x="540.4" y="52.6" width="43.30" height="34.10" fill="none" stroke="#000" stroke-width="2.2"/>
<g clip-path="url(#cp6)" shape-rendering="crispEdges"><rect x="27" y="104" width="270.50" height="130.00" fill="#535353"/><g id="hf6" transform="translate(162.25,104)"><polygon points="-0.6,0.0 138.0,0.0 138.0,9.3 138.0,18.6 138.0,27.9 138.0,37.1 138.0,46.4 138.0,55.7 138.0,65.0 138.0,74.3 138.0,83.6 138.0,92.9 138.0,102.1 137.8,111.4 136.1,120.7 134.2,130.0 -0.6,130.0" fill="#565656"/><polygon points="-0.6,0.0 138.0,0.0 138.0,9.3 138.0,18.6 138.0,27.9 138.0,37.1 138.0,46.4 138.0,55.7 138.0,65.0 138.0,74.3 138.0,83.6 138.0,92.9 138.0,102.1 136.8,111.4 135.1,120.7 133.0,130.0 -0.6,130.0" fill="#585858"/><polygon points="-0.6,0.0 138.0,0.0 138.0,9.3 138.0,18.6 138.0,27.9 138.0,37.1 138.0,46.4 138.0,55.7 138.0,65.0 138.0,74.3 138.0,83.6 138.0,92.9 137.2,102.1 135.7,111.4 134.0,120.7 131.9,130.0 -0.6,130.0" fill="#5a5a5a"/><polygon points="-0.6,0.0 138.0,0.0 138.0,9.3 138.0,18.6 138.0,27.9 138.0,37.1 138.0,46.4 138.0,55.7 138.0,65.0 138.0,74.3 138.0,83.6 137.4,92.9 136.2,102.1 134.7,111.4 132.9,120.7 130.8,130.0 -0.6,130.0" fill="#5c5c5c"/><polygon points="-0.6,0.0 138.0,0.0 138.0,9.3 138.0,18.6 138.0,27.9 138.0,37.1 138.0,46.4 138.0,55.7 138.0,65.0 138.0,74.3 137.5,83.6 136.4,92.9 135.2,102.1 133.6,111.4 131.8,120.7 129.6,130.0 -0.6,130.0" fill="#5e5e5e"/><polygon points="-0.6,0.0 138.0,0.0 138.0,9.3 138.0,18.6 138.0,27.9 138.0,37.1 138.0,46.4 138.0,55.7 138.0,65.0 137.4,74.3 136.5,83.6 135.4,92.9 134.1,102.1 132.6,111.4 130.7,120.7 128.4,130.0 -0.6,130.0" fill="#606060"/><polygon points="-0.6,0.0 138.0,0.0 138.0,9.3 138.0,18.6 138.0,27.9 138.0,37.1 138.0,46.4 137.8,55.7 137.2,65.0 136.5,74.3 135.5,83.6 134.4,92.9 133.1,102.1 131.5,111.4 129.6,120.7 127.2,130.0 -0.6,130.0" fill="#626262"/><polygon points="-0.6,0.0 138.0,0.0 138.0,9.3 138.0,18.6 138.0,27.9 137.8,37.1 137.4,46.4 136.9,55.7 136.3,65.0 135.5,74.3 134.6,83.6 133.4,92.9 132.1,102.1 130.4,111.4 128.4,120.7 126.0,130.0 -0.6,130.0" fill="#646464"/><polygon points="-0.6,0.0 137.7,0.0 137.6,9.3 137.4,18.6 137.2,27.9 136.9,37.1 136.5,46.4 136.0,55.7 135.3,65.0 134.5,74.3 133.6,83.6 132.4,92.9 131.0,102.1 129.3,111.4 127.3,120.7 124.8,130.0 -0.6,130.0" fill="#666666"/><polygon points="-0.6,0.0 136.8,0.0 136.7,9.3 136.5,18.6 136.3,27.9 135.9,37.1 135.5,46.4 135.0,55.7 134.4,65.0 133.6,74.3 132.6,83.6 131.4,92.9 129.9,102.1 128.2,111.4 126.1,120.7 123.6,130.0 -0.6,130.0" fill="#686868"/><polygon points="-0.6,0.0 135.9,0.0 135.8,9.3 135.6,18.6 135.3,27.9 135.0,37.1 134.6,46.4 134.1,55.7 133.4,65.0 132.6,74.3 131.6,83.6 130.3,92.9 128.9,102.1 127.1,111.4 124.9,120.7 122.3,130.0 -0.6,130.0" fill="#6a6a6a"/><polygon points="-0.6,0.0 135.0,0.0 134.9,9.3 134.7,18.6 134.4,27.9 134.1,37.1 133.7,46.4 133.1,55.7 132.4,65.0 131.6,74.3 130.5,83.6 129.3,92.9 127.8,102.1 125.9,111.4 123.7,120.7 121.0,130.0 -0.6,130.0" fill="#6c6c6c"/><polygon points="-0.6,0.0 134.1,0.0 133.9,9.3 133.7,18.6 133.5,27.9 133.1,37.1 132.7,46.4 132.1,55.7 131.4,65.0 130.6,74.3 129.5,83.6 128.2,92.9 126.7,102.1 124.8,111.4 122.5,120.7 119.7,130.0 -0.6,130.0" fill="#6e6e6e"/><polygon points="-0.6,0.0 133.1,0.0 133.0,9.3 132.8,18.6 132.6,27.9 132.2,37.1 131.7,46.4 131.2,55.7 130.5,65.0 129.6,74.3 128.5,83.6 127.2,92.9 125.6,102.1 123.6,111.4 121.2,120.7 118.3,130.0 -0.6,130.0" fill="#707070"/><polygon points="-0.6,0.0 132.2,0.0 132.1,9.3 131.9,18.6 131.6,27.9 131.2,37.1 130.8,46.4 130.2,55.7 129.5,65.0 128.6,74.3 127.4,83.6 126.1,92.9 124.4,102.1 122.4,111.4 120.0,120.7 116.9,130.0 -0.6,130.0" fill="#727272"/><polygon points="-0.6,0.0 131.3,0.0 131.1,9.3 130.9,18.6 130.7,27.9 130.3,37.1 129.8,46.4 129.2,55.7 128.5,65.0 127.5,74.3 126.4,83.6 125.0,92.9 123.3,102.1 121.2,111.4 118.7,120.7 115.5,130.0 -0.6,130.0" fill="#747474"/><polygon points="-0.6,0.0 130.3,0.0 130.2,9.3 130.0,18.6 129.7,27.9 129.3,37.1 128.8,46.4 128.2,55.7 127.4,65.0 126.5,74.3 125.3,83.6 123.9,92.9 122.1,102.1 120.0,111.4 117.3,120.7 114.1,130.0 -0.6,130.0" fill="#767676"/><polygon points="-0.6,0.0 129.4,0.0 129.2,9.3 129.0,18.6 128.7,27.9 128.4,37.1 127.9,46.4 127.2,55.7 126.4,65.0 125.4,74.3 124.2,83.6 122.8,92.9 120.9,102.1 118.7,111.4 116.0,120.7 112.6,130.0 -0.6,130.0" fill="#787878"/><polygon points="-0.6,0.0 128.4,0.0 128.3,9.3 128.1,18.6 127.8,27.9 127.4,37.1 126.9,46.4 126.2,55.7 125.4,65.0 124.4,74.3 123.1,83.6 121.6,92.9 119.8,102.1 117.5,111.4 114.6,120.7 111.1,130.0 -0.6,130.0" fill="#7a7a7a"/><polygon points="-0.6,0.0 127.5,0.0 127.3,9.3 127.1,18.6 126.8,27.9 126.4,37.1 125.9,46.4 125.2,55.7 124.4,65.0 123.3,74.3 122.0,83.6 120.5,92.9 118.5,102.1 116.2,111.4 113.2,120.7 109.5,130.0 -0.6,130.0" fill="#7c7c7c"/><polygon points="-0.6,0.0 126.5,0.0 126.3,9.3 126.1,18.6 125.8,27.9 125.4,37.1 124.9,46.4 124.2,55.7 123.3,65.0 122.2,74.3 120.9,83.6 119.3,92.9 117.3,102.1 114.8,111.4 111.8,120.7 107.9,130.0 -0.6,130.0" fill="#7e7e7e"/><polygon points="-0.6,0.0 125.5,0.0 125.4,9.3 125.1,18.6 124.8,27.9 124.4,37.1 123.8,46.4 123.1,55.7 122.3,65.0 121.2,74.3 119.8,83.6 118.1,92.9 116.1,102.1 113.5,111.4 110.3,120.7 106.2,130.0 -0.6,130.0" fill="#808080"/><polygon points="-0.6,0.0 124.5,0.0 124.4,9.3 124.1,18.6 123.8,27.9 123.4,37.1 122.8,46.4 122.1,55.7 121.2,65.0 120.0,74.3 118.6,83.6 116.9,92.9 114.8,102.1 112.1,111.4 108.8,120.7 104.5,130.0 -0.6,130.0" fill="#828282"/><polygon points="-0.6,0.0 123.6,0.0 123.4,9.3 123.2,18.6 122.8,27.9 122.4,37.1 121.8,46.4 121.0,55.7 120.1,65.0 118.9,74.3 117.5,83.6 115.7,92.9 113.5,102.1 110.7,111.4 107.2,120.7 102.7,130.0 -0.6,130.0" fill="#848484"/><polygon points="-0.6,0.0 122.6,0.0 122.4,9.3 122.2,18.6 121.8,27.9 121.3,37.1 120.7,46.4 120.0,55.7 119.0,65.0 117.8,74.3 116.3,83.6 114.5,92.9 112.2,102.1 109.3,111.4 105.6,120.7 100.8,130.0 -0.6,130.0" fill="#868686"/><polygon points="-0.6,0.0 121.6,0.0 121.4,9.3 121.1,18.6 120.8,27.9 120.3,37.1 119.7,46.4 118.9,55.7 117.9,65.0 116.7,74.3 115.1,83.6 113.2,92.9 110.8,102.1 107.8,111.4 104.0,120.7 98.8,130.0 -0.6,130.0" fill="#888888"/><polygon points="-0.6,0.0 120.6,0.0 120.4,9.3 120.1,18.6 119.8,27.9 119.3,37.1 118.6,46.4 117.8,55.7 116.8,65.0 115.5,74.3 113.9,83.6 111.9,92.9 109.4,102.1 106.3,111.4 102.2,120.7 96.8,130.0 -0.6,130.0" fill="#8a8a8a"/><polygon points="-0.6,0.0 119.5,0.0 119.4,9.3 119.1,18.6 118.7,27.9 118.2,37.1 117.6,46.4 116.7,55.7 115.7,65.0 114.3,74.3 112.7,83.6 110.6,92.9 108.0,102.1 104.7,111.4 100.4,120.7 94.6,130.0 -0.6,130.0" fill="#8c8c8c"/><polygon points="-0.6,0.0 118.5,0.0 118.3,9.3 118.1,18.6 117.7,27.9 117.2,37.1 116.5,46.4 115.6,55.7 114.5,65.0 113.2,74.3 111.4,83.6 109.3,92.9 106.6,102.1 103.1,111.4 98.6,120.7 92.3,130.0 -0.6,130.0" fill="#8e8e8e"/><polygon points="-0.6,0.0 117.5,0.0 117.3,9.3 117.0,18.6 116.6,27.9 116.1,37.1 115.4,46.4 114.5,55.7 113.4,65.0 112.0,74.3 110.2,83.6 107.9,92.9 105.1,102.1 101.5,111.4 96.6,120.7 89.8,130.0 -0.6,130.0" fill="#909090"/><polygon points="-0.6,0.0 116.5,0.0 116.3,9.3 116.0,18.6 115.6,27.9 115.0,37.1 114.3,46.4 113.4,55.7 112.2,65.0 110.7,74.3 108.9,83.6 106.6,92.9 103.6,102.1 99.7,111.4 94.6,120.7 87.1,130.0 -0.6,130.0" fill="#929292"/><polygon points="-0.6,0.0 115.4,0.0 115.2,9.3 114.9,18.6 114.5,27.9 113.9,37.1 113.2,46.4 112.2,55.7 111.0,65.0 109.5,74.3 107.6,83.6 105.1,92.9 102.0,102.1 97.9,111.4 92.4,120.7 84.1,130.0 -0.6,130.0" fill="#949494"/><polygon points="-0.6,0.0 114.4,0.0 114.2,9.3 113.8,18.6 113.4,27.9 112.8,37.1 112.1,46.4 111.1,55.7 109.8,65.0 108.2,74.3 106.2,83.6 103.7,92.9 100.4,102.1 96.1,111.4 90.1,120.7 80.8,130.0 -0.6,130.0" fill="#969696"/><polygon points="-0.6,0.0 113.3,0.0 113.1,9.3 112.8,18.6 112.3,27.9 111.7,37.1 110.9,46.4 109.9,55.7 108.6,65.0 106.9,74.3 104.9,83.6 102.2,92.9 98.7,102.1 94.1,111.4 87.6,120.7 77.0,130.0 -0.6,130.0" fill="#989898"/><polygon points="-0.6,0.0 112.2,0.0 112.0,9.3 111.7,18.6 111.2,27.9 110.6,37.1 109.8,46.4 108.7,55.7 107.4,65.0 105.6,74.3 103.5,83.6 100.7,92.9 97.0,102.1 92.1,111.4 84.9,120.7 72.4,130.0 -0.6,130.0" fill="#9a9a9a"/><polygon points="-0.6,0.0 111.2,0.0 110.9,9.3 110.6,18.6 110.1,27.9 109.5,37.1 108.6,46.4 107.5,55.7 106.1,65.0 104.3,74.3 102.0,83.6 99.1,92.9 95.2,102.1 89.9,111.4 81.9,120.7 66.5,130.0 -0.6,130.0" fill="#9c9c9c"/><polygon points="-0.6,0.0 110.1,0.0 109.8,9.3 109.5,18.6 109.0,27.9 108.3,37.1 107.4,46.4 106.3,55.7 104.8,65.0 103.0,74.3 100.6,83.6 97.5,92.9 93.3,102.1 87.6,111.4 78.6,120.7 57.6,130.0 -0.6,130.0" fill="#9e9e9e"/><polygon points="-0.6,0.0 109.0,0.0 108.4,17.9 107.4,34.4 105.9,49.6 103.8,63.5 101.1,76.0 97.9,87.3 93.9,97.2 89.2,105.8 83.6,113.1 77.1,119.0 69.5,123.6 60.1,127.0 47.9,128.9 20.3,129.6 -0.6,129.6" fill="#a0a0a0"/><polygon points="-0.6,0.0 107.9,0.0 107.3,17.5 106.3,33.7 104.8,48.7 102.7,62.3 100.1,74.6 96.8,85.6 92.9,95.4 88.2,103.8 82.8,111.0 76.4,116.8 68.8,121.3 59.6,124.6 47.5,126.5 20.3,127.2 -0.6,127.2" fill="#a2a2a2"/><polygon points="-0.6,0.0 106.8,0.0 106.2,17.2 105.1,33.1 103.6,47.7 101.6,61.1 99.0,73.2 95.8,84.0 91.9,93.5 87.3,101.8 81.9,108.8 75.6,114.6 68.1,119.0 59.0,122.2 47.1,124.1 20.3,124.7 -0.6,124.7" fill="#a4a4a4"/><polygon points="-0.6,0.0 105.6,0.0 105.0,16.8 104.0,32.4 102.5,46.8 100.5,59.9 97.9,71.7 94.7,82.3 90.9,91.7 86.3,99.8 81.0,106.7 74.8,112.3 67.4,116.7 58.4,119.8 46.7,121.6 20.3,122.3 -0.6,122.3" fill="#a6a6a6"/><polygon points="-0.6,0.0 104.5,0.0 103.9,16.5 102.9,31.8 101.4,45.8 99.4,58.7 96.8,70.3 93.6,80.7 89.8,89.8 85.4,97.8 80.1,104.5 74.0,110.0 66.7,114.3 57.9,117.3 46.3,119.2 20.3,119.8 -0.6,119.8" fill="#a8a8a8"/><polygon points="-0.6,0.0 103.3,0.0 102.7,16.2 101.7,31.1 100.2,44.9 98.2,57.4 95.7,68.8 92.6,79.0 88.8,88.0 84.4,95.7 79.2,102.3 73.1,107.7 66.0,111.9 57.3,114.9 45.9,116.7 20.3,117.3 -0.6,117.3" fill="#aaaaaa"/><polygon points="-0.6,0.0 102.2,0.0 101.6,15.8 100.5,30.4 99.1,43.9 97.1,56.2 94.6,67.3 91.5,77.3 87.8,86.1 83.4,93.7 78.3,100.1 72.3,105.4 65.3,109.5 56.7,112.4 45.5,114.2 20.3,114.8 -0.6,114.8" fill="#acacac"/><polygon points="-0.6,0.0 101.0,0.0 100.4,15.5 99.4,29.8 97.9,42.9 95.9,55.0 93.4,65.8 90.4,75.6 86.7,84.2 82.4,91.6 77.4,97.9 71.5,103.0 64.5,107.0 56.1,109.9 45.1,111.6 20.3,112.2 -0.6,112.2" fill="#aeaeae"/><polygon points="-0.6,0.0 99.8,0.0 99.2,15.1 98.2,29.1 96.7,41.9 94.7,53.7 92.3,64.3 89.3,73.8 85.7,82.2 81.4,89.5 76.4,95.6 70.6,100.7 63.8,104.6 55.5,107.4 44.7,109.1 20.3,109.6 -0.6,109.6" fill="#b0b0b0"/><polygon points="-0.6,0.0 98.6,0.0 98.0,14.7 97.0,28.4 95.5,41.0 93.6,52.4 91.1,62.8 88.1,72.1 84.6,80.3 80.4,87.4 75.5,93.4 69.8,98.3 63.1,102.1 54.9,104.8 44.3,106.5 20.3,107.0 -0.6,107.0" fill="#b2b2b2"/><polygon points="-0.6,0.0 97.4,0.0 96.8,14.4 95.7,27.7 94.3,39.9 92.4,51.1 89.9,61.3 87.0,70.3 83.5,78.3 79.4,85.2 74.6,91.1 68.9,95.9 62.3,99.6 54.3,102.3 43.9,103.9 20.3,104.4 -0.6,104.4" fill="#b4b4b4"/><polygon points="-0.6,0.0 96.2,0.0 95.5,14.0 94.5,27.0 93.1,38.9 91.1,49.8 88.8,59.7 85.8,68.5 82.4,76.3 78.3,83.1 73.6,88.8 68.1,93.4 61.6,97.1 53.7,99.7 43.4,101.2 20.3,101.7 -0.6,101.7" fill="#b6b6b6"/><polygon points="-0.6,0.0 94.9,0.0 94.3,13.6 93.3,26.3 91.8,37.9 89.9,48.5 87.6,58.1 84.7,66.7 81.3,74.3 77.3,80.9 72.6,86.4 67.2,91.0 60.8,94.5 53.1,97.0 43.0,98.6 20.3,99.1 -0.6,99.1" fill="#b8b8b8"/><polygon points="-0.6,0.0 93.7,0.0 93.0,13.3 92.0,25.6 90.5,36.9 88.7,47.2 86.3,56.5 83.5,64.9 80.1,72.3 76.2,78.7 71.6,84.1 66.3,88.5 60.1,91.9 52.5,94.4 42.6,95.9 20.3,96.4 -0.6,96.4" fill="#bababa"/><polygon points="-0.6,0.0 92.4,0.0 91.7,12.9 90.7,24.8 89.3,35.8 87.4,45.9 85.1,54.9 82.3,63.1 79.0,70.2 75.1,76.4 70.6,81.7 65.4,86.0 59.3,89.3 51.8,91.7 42.1,93.2 20.3,93.6 -0.6,93.6" fill="#bcbcbc"/><polygon points="-0.6,0.0 91.1,0.0 90.4,12.5 89.4,24.1 88.0,34.8 86.1,44.5 83.9,53.3 81.1,61.2 77.9,68.1 74.1,74.2 69.6,79.3 64.5,83.4 58.5,86.7 51.2,89.0 41.7,90.4 20.3,90.9 -0.6,90.9" fill="#bebebe"/><polygon points="-0.6,0.0 89.8,0.0 89.1,12.1 88.1,23.4 86.7,33.7 84.8,43.1 82.6,51.7 79.9,59.3 76.7,66.1 72.9,71.9 68.6,76.8 63.6,80.9 57.7,84.0 50.6,86.3 41.2,87.6 20.3,88.1 -0.6,88.1" fill="#c0c0c0"/><polygon points="-0.6,0.0 88.5,0.0 87.8,11.7 86.7,22.6 85.3,32.6 83.5,41.8 81.3,50.0 78.6,57.4 75.5,63.9 71.8,69.6 67.6,74.4 62.7,78.3 56.9,81.3 49.9,83.5 40.8,84.8 20.3,85.2 -0.6,85.2" fill="#c2c2c2"/><polygon points="-0.6,0.0 87.1,0.0 86.4,11.3 85.4,21.9 84.0,31.5 82.2,40.4 80.0,48.3 77.4,55.5 74.3,61.8 70.7,67.3 66.5,71.9 61.7,75.7 56.1,78.6 49.2,80.7 40.3,82.0 20.3,82.4 -0.6,82.4" fill="#c4c4c4"/><polygon points="-0.6,0.0 85.8,0.0 85.0,11.0 84.0,21.1 82.6,30.4 80.9,38.9 78.7,46.6 76.1,53.5 73.1,59.6 69.5,64.9 65.5,69.4 60.8,73.0 55.2,75.8 48.6,77.9 39.9,79.1 20.3,79.5 -0.6,79.5" fill="#c6c6c6"/><polygon points="-0.6,0.0 84.4,0.0 83.7,10.5 82.6,20.3 81.2,29.3 79.5,37.5 77.3,44.9 74.8,51.6 71.8,57.4 68.4,62.5 64.4,66.8 59.8,70.3 54.4,73.1 47.9,75.0 39.4,76.2 20.3,76.6 -0.6,76.6" fill="#c8c8c8"/><polygon points="-0.6,0.0 82.9,0.0 82.2,10.1 81.2,19.5 79.8,28.2 78.1,36.1 76.0,43.2 73.5,49.6 70.6,55.2 67.2,60.1 63.3,64.2 58.8,67.6 53.5,70.2 47.2,72.1 38.9,73.2 20.3,73.6 -0.6,73.6" fill="#cacaca"/><polygon points="-0.6,0.0 81.5,0.0 80.8,9.7 79.7,18.7 78.4,27.0 76.7,34.6 74.6,41.4 72.1,47.5 69.3,53.0 66.0,57.6 62.2,61.6 57.8,64.8 52.7,67.4 46.5,69.2 38.4,70.2 20.3,70.6 -0.6,70.6" fill="#cccccc"/><polygon points="-0.6,0.0 80.0,0.0 79.3,9.3 78.3,17.9 76.9,25.9 75.2,33.1 73.2,39.6 70.8,45.5 68.0,50.7 64.8,55.2 61.0,58.9 56.8,62.0 51.8,64.5 45.8,66.2 37.9,67.2 20.3,67.6 -0.6,67.6" fill="#cecece"/><polygon points="-0.6,0.0 78.5,0.0 77.8,8.9 76.8,17.1 75.4,24.7 73.7,31.6 71.7,37.8 69.4,43.4 66.7,48.4 63.5,52.6 59.9,56.3 55.7,59.2 50.9,61.5 45.0,63.2 37.4,64.1 20.3,64.5 -0.6,64.5" fill="#d0d0d0"/><polygon points="-0.6,0.0 77.0,0.0 76.3,8.5 75.2,16.3 73.9,23.5 72.2,30.1 70.3,36.0 68.0,41.3 65.3,46.0 62.2,50.1 58.7,53.5 54.7,56.3 49.9,58.5 44.3,60.1 36.9,61.0 20.3,61.4 -0.6,61.4" fill="#d2d2d2"/><polygon points="-0.6,0.0 75.5,0.0 74.7,8.0 73.6,15.4 72.3,22.3 70.7,28.5 68.8,34.1 66.5,39.2 63.9,43.6 60.9,47.5 57.5,50.8 53.6,53.4 49.0,55.5 43.5,57.0 36.4,57.9 20.3,58.2 -0.6,58.2" fill="#d4d4d4"/><polygon points="-0.6,0.0 73.9,0.0 73.1,7.6 72.0,14.6 70.7,21.0 69.1,26.9 67.2,32.3 65.0,37.0 62.5,41.2 59.6,44.9 56.3,48.0 52.5,50.5 48.1,52.4 42.7,53.9 35.8,54.7 20.3,55.0 -0.6,55.0" fill="#d6d6d6"/><polygon points="-0.6,0.0 72.2,0.0 71.4,7.1 70.4,13.7 69.1,19.8 67.5,25.3 65.7,30.3 63.5,34.8 61.0,38.8 58.2,42.2 55.0,45.1 51.3,47.5 47.1,49.3 41.9,50.7 35.3,51.4 20.3,51.7 -0.6,51.7" fill="#d8d8d8"/><polygon points="-0.6,0.0 70.5,0.0 69.7,6.7 68.7,12.8 67.4,18.5 65.9,23.7 64.1,28.4 62.0,32.6 59.6,36.3 56.8,39.5 53.7,42.2 50.2,44.4 46.1,46.2 41.1,47.4 34.7,48.2 20.3,48.4 -0.6,48.4" fill="#dadada"/><polygon points="-0.6,0.0 68.8,0.0 68.0,6.2 66.9,11.9 65.7,17.2 64.2,22.1 62.4,26.4 60.4,30.3 58.0,33.8 55.4,36.8 52.4,39.3 49.0,41.4 45.0,43.0 40.3,44.1 34.1,44.8 20.3,45.0 -0.6,45.0" fill="#dcdcdc"/><polygon points="-0.6,0.0 67.0,0.0 66.2,5.7 65.1,11.0 63.9,15.9 62.4,20.4 60.7,24.4 58.7,28.0 56.5,31.2 53.9,34.0 51.1,36.3 47.8,38.2 44.0,39.7 39.4,40.8 33.5,41.4 20.3,41.6 -0.6,41.6" fill="#dedede"/><polygon points="-0.6,0.0 65.2,0.0 64.3,5.3 63.3,10.1 62.0,14.6 60.6,18.7 58.9,22.4 57.0,25.7 54.8,28.6 52.4,31.1 49.6,33.3 46.5,35.0 42.9,36.4 38.5,37.4 32.9,37.9 20.3,38.1 -0.6,38.1" fill="#e0e0e0"/><polygon points="-0.6,0.0 63.2,0.0 62.4,4.8 61.3,9.2 60.1,13.2 58.7,16.9 57.1,20.3 55.2,23.3 53.2,25.9 50.8,28.2 48.2,30.2 45.2,31.8 41.7,33.0 37.6,33.9 32.3,34.4 20.3,34.6 -0.6,34.6" fill="#e2e2e2"/><polygon points="-0.6,0.0 61.2,0.0 60.4,4.3 59.3,8.2 58.1,11.9 56.7,15.2 55.2,18.2 53.4,20.9 51.4,23.2 49.2,25.3 46.7,27.0 43.8,28.5 40.6,29.6 36.7,30.4 31.6,30.8 20.3,31.0 -0.6,31.0" fill="#e4e4e4"/><polygon points="-0.6,0.0 59.1,0.0 58.2,3.8 57.2,7.2 56.0,10.5 54.7,13.4 53.2,16.0 51.5,18.4 49.6,20.5 47.5,22.3 45.1,23.8 42.4,25.1 39.3,26.1 35.7,26.8 30.9,27.2 20.3,27.3 -0.6,27.3" fill="#e6e6e6"/><polygon points="-0.6,0.0 56.8,0.0 55.9,3.2 54.9,6.3 53.8,9.0 52.5,11.5 51.0,13.8 49.4,15.9 47.6,17.7 45.7,19.2 43.4,20.6 40.9,21.6 38.0,22.5 34.6,23.1 30.2,23.4 20.3,23.6 -0.6,23.6" fill="#e8e8e8"/><polygon points="-0.6,0.0 54.4,0.0 53.5,2.7 52.5,5.2 51.4,7.6 50.2,9.7 48.8,11.6 47.3,13.3 45.6,14.8 43.7,16.1 41.7,17.2 39.3,18.1 36.7,18.8 33.5,19.3 29.4,19.6 20.3,19.7 -0.6,19.7" fill="#eaeaea"/><polygon points="-0.6,0.0 51.7,0.0 50.8,2.2 49.9,4.2 48.8,6.1 47.6,7.8 46.3,9.3 44.9,10.7 43.3,11.9 41.6,12.9 39.7,13.8 37.6,14.5 35.2,15.1 32.3,15.5 28.6,15.8 20.3,15.8 -0.6,15.8" fill="#ececec"/><polygon points="-0.6,0.0 48.7,0.0 47.8,1.6 46.9,3.1 45.9,4.5 44.8,5.8 43.6,6.9 42.3,8.0 40.9,8.9 39.3,9.7 37.6,10.3 35.7,10.9 33.5,11.3 31.0,11.6 27.7,11.8 20.3,11.8 -0.6,11.8" fill="#eeeeee"/><polygon points="-0.6,0.0 45.0,0.0 44.2,1.1 43.3,2.1 42.4,3.0 41.4,3.8 40.3,4.5 39.2,5.2 37.9,5.8 36.6,6.3 35.1,6.8 33.5,7.1 31.6,7.4 29.4,7.6 26.6,7.7 20.3,7.8 -0.6,7.8" fill="#f0f0f0"/><polygon points="-0.6,0.0 39.8,0.0 39.1,0.5 38.4,0.9 37.6,1.4 36.8,1.7 35.9,2.1 35.0,2.4 34.0,2.7 32.9,2.9 31.8,3.1 30.5,3.3 29.0,3.4 27.3,3.5 25.2,3.5 20.3,3.6 -0.6,3.6" fill="#f2f2f2"/></g><use href="#hf6" transform="translate(324.50,0) scale(-1,1)"/></g><rect x="27" y="104" width="270.50" height="130.00" fill="none" stroke="#000" stroke-width="2"/>
<g clip-path="url(#cp7)" shape-rendering="crispEdges"><rect x="313.8" y="104" width="270.20" height="130.00" fill="#535353"/><g id="hf7" transform="translate(448.90,104)"><polygon points="-0.6,0.0 137.8,0.0 137.8,9.3 137.8,18.6 137.8,27.9 137.8,37.1 137.8,46.4 137.8,55.7 137.8,65.0 137.8,74.3 137.8,83.6 137.8,92.9 137.8,102.1 137.6,111.4 136.0,120.7 134.0,130.0 -0.6,130.0" fill="#565656"/><polygon points="-0.6,0.0 137.8,0.0 137.8,9.3 137.8,18.6 137.8,27.9 137.8,37.1 137.8,46.4 137.8,55.7 137.8,65.0 137.8,74.3 137.8,83.6 137.8,92.9 137.8,102.1 136.6,111.4 134.9,120.7 132.9,130.0 -0.6,130.0" fill="#585858"/><polygon points="-0.6,0.0 137.8,0.0 137.8,9.3 137.8,18.6 137.8,27.9 137.8,37.1 137.8,46.4 137.8,55.7 137.8,65.0 137.8,74.3 137.8,83.6 137.8,92.9 137.0,102.1 135.6,111.4 133.8,120.7 131.8,130.0 -0.6,130.0" fill="#5a5a5a"/><polygon points="-0.6,0.0 137.8,0.0 137.8,9.3 137.8,18.6 137.8,27.9 137.8,37.1 137.8,46.4 137.8,55.7 137.8,65.0 137.8,74.3 137.8,83.6 137.3,92.9 136.0,102.1 134.5,111.4 132.8,120.7 130.6,130.0 -0.6,130.0" fill="#5c5c5c"/><polygon points="-0.6,0.0 137.8,0.0 137.8,9.3 137.8,18.6 137.8,27.9 137.8,37.1 137.8,46.4 137.8,55.7 137.8,65.0 137.8,74.3 137.3,83.6 136.3,92.9 135.0,102.1 133.5,111.4 131.7,120.7 129.5,130.0 -0.6,130.0" fill="#5e5e5e"/><polygon points="-0.6,0.0 137.8,0.0 137.8,9.3 137.8,18.6 137.8,27.9 137.8,37.1 137.8,46.4 137.8,55.7 137.8,65.0 137.3,74.3 136.4,83.6 135.3,92.9 134.0,102.1 132.4,111.4 130.6,120.7 128.3,130.0 -0.6,130.0" fill="#606060"/><polygon points="-0.6,0.0 137.8,0.0 137.8,9.3 137.8,18.6 137.8,27.9 137.8,37.1 137.8,46.4 137.7,55.7 137.1,65.0 136.3,74.3 135.4,83.6 134.3,92.9 133.0,102.1 131.4,111.4 129.4,120.7 127.1,130.0 -0.6,130.0" fill="#626262"/><polygon points="-0.6,0.0 137.8,0.0 137.8,9.3 137.8,18.6 137.8,27.9 137.6,37.1 137.2,46.4 136.7,55.7 136.1,65.0 135.3,74.3 134.4,83.6 133.3,92.9 131.9,102.1 130.3,111.4 128.3,120.7 125.9,130.0 -0.6,130.0" fill="#646464"/><polygon points="-0.6,0.0 137.5,0.0 137.4,9.3 137.3,18.6 137.0,27.9 136.7,37.1 136.3,46.4 135.8,55.7 135.2,65.0 134.4,74.3 133.4,83.6 132.3,92.9 130.9,102.1 129.2,111.4 127.1,120.7 124.7,130.0 -0.6,130.0" fill="#666666"/><polygon points="-0.6,0.0 136.6,0.0 136.5,9.3 136.4,18.6 136.1,27.9 135.8,37.1 135.4,46.4 134.9,55.7 134.2,65.0 133.4,74.3 132.4,83.6 131.2,92.9 129.8,102.1 128.1,111.4 126.0,120.7 123.4,130.0 -0.6,130.0" fill="#686868"/><polygon points="-0.6,0.0 135.7,0.0 135.6,9.3 135.4,18.6 135.2,27.9 134.9,37.1 134.4,46.4 133.9,55.7 133.2,65.0 132.4,74.3 131.4,83.6 130.2,92.9 128.7,102.1 126.9,111.4 124.8,120.7 122.1,130.0 -0.6,130.0" fill="#6a6a6a"/><polygon points="-0.6,0.0 134.8,0.0 134.7,9.3 134.5,18.6 134.3,27.9 133.9,37.1 133.5,46.4 133.0,55.7 132.3,65.0 131.4,74.3 130.4,83.6 129.1,92.9 127.6,102.1 125.8,111.4 123.6,120.7 120.8,130.0 -0.6,130.0" fill="#6c6c6c"/><polygon points="-0.6,0.0 133.9,0.0 133.8,9.3 133.6,18.6 133.3,27.9 133.0,37.1 132.6,46.4 132.0,55.7 131.3,65.0 130.4,74.3 129.4,83.6 128.1,92.9 126.5,102.1 124.6,111.4 122.3,120.7 119.5,130.0 -0.6,130.0" fill="#6e6e6e"/><polygon points="-0.6,0.0 133.0,0.0 132.9,9.3 132.7,18.6 132.4,27.9 132.1,37.1 131.6,46.4 131.0,55.7 130.3,65.0 129.4,74.3 128.3,83.6 127.0,92.9 125.4,102.1 123.5,111.4 121.1,120.7 118.2,130.0 -0.6,130.0" fill="#707070"/><polygon points="-0.6,0.0 132.1,0.0 131.9,9.3 131.7,18.6 131.5,27.9 131.1,37.1 130.6,46.4 130.1,55.7 129.3,65.0 128.4,74.3 127.3,83.6 125.9,92.9 124.3,102.1 122.3,111.4 119.8,120.7 116.8,130.0 -0.6,130.0" fill="#727272"/><polygon points="-0.6,0.0 131.1,0.0 131.0,9.3 130.8,18.6 130.5,27.9 130.1,37.1 129.7,46.4 129.1,55.7 128.3,65.0 127.4,74.3 126.2,83.6 124.8,92.9 123.1,102.1 121.1,111.4 118.5,120.7 115.4,130.0 -0.6,130.0" fill="#747474"/><polygon points="-0.6,0.0 130.2,0.0 130.0,9.3 129.8,18.6 129.6,27.9 129.2,37.1 128.7,46.4 128.1,55.7 127.3,65.0 126.3,74.3 125.2,83.6 123.7,92.9 122.0,102.1 119.8,111.4 117.2,120.7 113.9,130.0 -0.6,130.0" fill="#767676"/><polygon points="-0.6,0.0 129.2,0.0 129.1,9.3 128.9,18.6 128.6,27.9 128.2,37.1 127.7,46.4 127.1,55.7 126.3,65.0 125.3,74.3 124.1,83.6 122.6,92.9 120.8,102.1 118.6,111.4 115.9,120.7 112.5,130.0 -0.6,130.0" fill="#787878"/><polygon points="-0.6,0.0 128.3,0.0 128.1,9.3 127.9,18.6 127.6,27.9 127.2,37.1 126.7,46.4 126.1,55.7 125.3,65.0 124.2,74.3 123.0,83.6 121.5,92.9 119.6,102.1 117.3,111.4 114.5,120.7 110.9,130.0 -0.6,130.0" fill="#7a7a7a"/><polygon points="-0.6,0.0 127.3,0.0 127.2,9.3 127.0,18.6 126.7,27.9 126.2,37.1 125.7,46.4 125.1,55.7 124.2,65.0 123.2,74.3 121.9,83.6 120.3,92.9 118.4,102.1 116.0,111.4 113.1,120.7 109.4,130.0 -0.6,130.0" fill="#7c7c7c"/><polygon points="-0.6,0.0 126.4,0.0 126.2,9.3 126.0,18.6 125.7,27.9 125.3,37.1 124.7,46.4 124.0,55.7 123.2,65.0 122.1,74.3 120.8,83.6 119.2,92.9 117.2,102.1 114.7,111.4 111.7,120.7 107.8,130.0 -0.6,130.0" fill="#7e7e7e"/><polygon points="-0.6,0.0 125.4,0.0 125.2,9.3 125.0,18.6 124.7,27.9 124.3,37.1 123.7,46.4 123.0,55.7 122.1,65.0 121.0,74.3 119.7,83.6 118.0,92.9 115.9,102.1 113.4,111.4 110.2,120.7 106.1,130.0 -0.6,130.0" fill="#808080"/><polygon points="-0.6,0.0 124.4,0.0 124.2,9.3 124.0,18.6 123.7,27.9 123.2,37.1 122.7,46.4 122.0,55.7 121.0,65.0 119.9,74.3 118.5,83.6 116.8,92.9 114.7,102.1 112.0,111.4 108.7,120.7 104.4,130.0 -0.6,130.0" fill="#828282"/><polygon points="-0.6,0.0 123.4,0.0 123.3,9.3 123.0,18.6 122.7,27.9 122.2,37.1 121.7,46.4 120.9,55.7 120.0,65.0 118.8,74.3 117.4,83.6 115.6,92.9 113.4,102.1 110.6,111.4 107.1,120.7 102.6,130.0 -0.6,130.0" fill="#848484"/><polygon points="-0.6,0.0 122.4,0.0 122.3,9.3 122.0,18.6 121.7,27.9 121.2,37.1 120.6,46.4 119.8,55.7 118.9,65.0 117.7,74.3 116.2,83.6 114.3,92.9 112.0,102.1 109.2,111.4 105.5,120.7 100.7,130.0 -0.6,130.0" fill="#868686"/><polygon points="-0.6,0.0 121.4,0.0 121.3,9.3 121.0,18.6 120.7,27.9 120.2,37.1 119.6,46.4 118.8,55.7 117.8,65.0 116.5,74.3 115.0,83.6 113.1,92.9 110.7,102.1 107.7,111.4 103.8,120.7 98.7,130.0 -0.6,130.0" fill="#888888"/><polygon points="-0.6,0.0 120.4,0.0 120.3,9.3 120.0,18.6 119.6,27.9 119.1,37.1 118.5,46.4 117.7,55.7 116.7,65.0 115.4,74.3 113.8,83.6 111.8,92.9 109.3,102.1 106.2,111.4 102.1,120.7 96.7,130.0 -0.6,130.0" fill="#8a8a8a"/><polygon points="-0.6,0.0 119.4,0.0 119.2,9.3 119.0,18.6 118.6,27.9 118.1,37.1 117.4,46.4 116.6,55.7 115.5,65.0 114.2,74.3 112.6,83.6 110.5,92.9 107.9,102.1 104.6,111.4 100.3,120.7 94.5,130.0 -0.6,130.0" fill="#8c8c8c"/><polygon points="-0.6,0.0 118.4,0.0 118.2,9.3 117.9,18.6 117.5,27.9 117.0,37.1 116.4,46.4 115.5,55.7 114.4,65.0 113.0,74.3 111.3,83.6 109.2,92.9 106.5,102.1 103.0,111.4 98.5,120.7 92.2,130.0 -0.6,130.0" fill="#8e8e8e"/><polygon points="-0.6,0.0 117.4,0.0 117.2,9.3 116.9,18.6 116.5,27.9 116.0,37.1 115.3,46.4 114.4,55.7 113.2,65.0 111.8,74.3 110.0,83.6 107.8,92.9 105.0,102.1 101.3,111.4 96.5,120.7 89.7,130.0 -0.6,130.0" fill="#909090"/><polygon points="-0.6,0.0 116.3,0.0 116.1,9.3 115.8,18.6 115.4,27.9 114.9,37.1 114.2,46.4 113.2,55.7 112.1,65.0 110.6,74.3 108.8,83.6 106.4,92.9 103.5,102.1 99.6,111.4 94.5,120.7 87.0,130.0 -0.6,130.0" fill="#929292"/><polygon points="-0.6,0.0 115.3,0.0 115.1,9.3 114.8,18.6 114.4,27.9 113.8,37.1 113.1,46.4 112.1,55.7 110.9,65.0 109.4,74.3 107.4,83.6 105.0,92.9 101.9,102.1 97.8,111.4 92.3,120.7 84.0,130.0 -0.6,130.0" fill="#949494"/><polygon points="-0.6,0.0 114.2,0.0 114.0,9.3 113.7,18.6 113.3,27.9 112.7,37.1 111.9,46.4 110.9,55.7 109.7,65.0 108.1,74.3 106.1,83.6 103.6,92.9 100.3,102.1 96.0,111.4 90.0,120.7 80.7,130.0 -0.6,130.0" fill="#969696"/><polygon points="-0.6,0.0 113.2,0.0 113.0,9.3 112.6,18.6 112.2,27.9 111.6,37.1 110.8,46.4 109.8,55.7 108.5,65.0 106.8,74.3 104.7,83.6 102.1,92.9 98.6,102.1 94.0,111.4 87.5,120.7 76.9,130.0 -0.6,130.0" fill="#989898"/><polygon points="-0.6,0.0 112.1,0.0 111.9,9.3 111.6,18.6 111.1,27.9 110.5,37.1 109.6,46.4 108.6,55.7 107.2,65.0 105.5,74.3 103.3,83.6 100.6,92.9 96.9,102.1 92.0,111.4 84.8,120.7 72.3,130.0 -0.6,130.0" fill="#9a9a9a"/><polygon points="-0.6,0.0 111.0,0.0 110.8,9.3 110.5,18.6 110.0,27.9 109.3,37.1 108.5,46.4 107.4,55.7 106.0,65.0 104.2,74.3 101.9,83.6 99.0,92.9 95.1,102.1 89.8,111.4 81.8,120.7 66.4,130.0 -0.6,130.0" fill="#9c9c9c"/><polygon points="-0.6,0.0 110.0,0.0 109.7,9.3 109.4,18.6 108.9,27.9 108.2,37.1 107.3,46.4 106.2,55.7 104.7,65.0 102.8,74.3 100.5,83.6 97.4,92.9 93.2,102.1 87.5,111.4 78.5,120.7 57.5,130.0 -0.6,130.0" fill="#9e9e9e"/><polygon points="-0.6,0.0 108.9,0.0 108.3,17.9 107.3,34.4 105.7,49.6 103.7,63.5 101.0,76.0 97.7,87.3 93.8,97.2 89.1,105.8 83.5,113.1 77.1,119.0 69.4,123.6 60.0,127.0 47.8,128.9 20.3,129.6 -0.6,129.6" fill="#a0a0a0"/><polygon points="-0.6,0.0 107.7,0.0 107.2,17.5 106.1,33.7 104.6,48.7 102.6,62.3 100.0,74.6 96.7,85.6 92.8,95.4 88.1,103.8 82.7,111.0 76.3,116.8 68.7,121.3 59.5,124.6 47.4,126.5 20.3,127.2 -0.6,127.2" fill="#a2a2a2"/><polygon points="-0.6,0.0 106.6,0.0 106.0,17.2 105.0,33.1 103.5,47.7 101.5,61.1 98.9,73.2 95.7,84.0 91.8,93.5 87.2,101.8 81.8,108.8 75.5,114.6 68.0,119.0 58.9,122.2 47.1,124.1 20.3,124.7 -0.6,124.7" fill="#a4a4a4"/><polygon points="-0.6,0.0 105.5,0.0 104.9,16.8 103.9,32.4 102.4,46.8 100.4,59.9 97.8,71.7 94.6,82.3 90.8,91.7 86.2,99.8 80.9,106.7 74.7,112.3 67.3,116.7 58.4,119.8 46.7,121.6 20.3,122.3 -0.6,122.3" fill="#a6a6a6"/><polygon points="-0.6,0.0 104.4,0.0 103.8,16.5 102.7,31.8 101.3,45.8 99.3,58.7 96.7,70.3 93.5,80.7 89.7,89.8 85.3,97.8 80.0,104.5 73.9,110.0 66.6,114.3 57.8,117.3 46.3,119.2 20.3,119.8 -0.6,119.8" fill="#a8a8a8"/><polygon points="-0.6,0.0 103.2,0.0 102.6,16.2 101.6,31.1 100.1,44.9 98.1,57.4 95.6,68.8 92.5,79.0 88.7,88.0 84.3,95.7 79.1,102.3 73.1,107.7 65.9,111.9 57.2,114.9 45.9,116.7 20.3,117.3 -0.6,117.3" fill="#aaaaaa"/><polygon points="-0.6,0.0 102.1,0.0 101.4,15.8 100.4,30.4 98.9,43.9 97.0,56.2 94.5,67.3 91.4,77.3 87.7,86.1 83.3,93.7 78.2,100.1 72.2,105.4 65.2,109.5 56.6,112.4 45.5,114.2 20.3,114.8 -0.6,114.8" fill="#acacac"/><polygon points="-0.6,0.0 100.9,0.0 100.3,15.5 99.2,29.8 97.8,42.9 95.8,55.0 93.3,65.8 90.3,75.6 86.6,84.2 82.3,91.6 77.3,97.9 71.4,103.0 64.5,107.0 56.1,109.9 45.1,111.6 20.3,112.2 -0.6,112.2" fill="#aeaeae"/><polygon points="-0.6,0.0 99.7,0.0 99.1,15.1 98.1,29.1 96.6,41.9 94.6,53.7 92.2,64.3 89.2,73.8 85.6,82.2 81.3,89.5 76.4,95.6 70.6,100.7 63.7,104.6 55.5,107.4 44.7,109.1 20.3,109.6 -0.6,109.6" fill="#b0b0b0"/><polygon points="-0.6,0.0 98.5,0.0 97.9,14.7 96.8,28.4 95.4,41.0 93.5,52.4 91.0,62.8 88.0,72.1 84.5,80.3 80.3,87.4 75.4,93.4 69.7,98.3 63.0,102.1 54.9,104.8 44.2,106.5 20.3,107.0 -0.6,107.0" fill="#b2b2b2"/><polygon points="-0.6,0.0 97.3,0.0 96.7,14.4 95.6,27.7 94.2,39.9 92.3,51.1 89.8,61.3 86.9,70.3 83.4,78.3 79.3,85.2 74.5,91.1 68.9,95.9 62.3,99.6 54.3,102.3 43.8,103.9 20.3,104.4 -0.6,104.4" fill="#b4b4b4"/><polygon points="-0.6,0.0 96.1,0.0 95.4,14.0 94.4,27.0 92.9,38.9 91.0,49.8 88.7,59.7 85.8,68.5 82.3,76.3 78.2,83.1 73.5,88.8 68.0,93.4 61.5,97.1 53.7,99.7 43.4,101.2 20.3,101.7 -0.6,101.7" fill="#b6b6b6"/><polygon points="-0.6,0.0 94.8,0.0 94.2,13.6 93.1,26.3 91.7,37.9 89.8,48.5 87.5,58.1 84.6,66.7 81.2,74.3 77.2,80.9 72.5,86.4 67.1,91.0 60.8,94.5 53.0,97.0 43.0,98.6 20.3,99.1 -0.6,99.1" fill="#b8b8b8"/><polygon points="-0.6,0.0 93.6,0.0 92.9,13.3 91.9,25.6 90.4,36.9 88.6,47.2 86.2,56.5 83.4,64.9 80.1,72.3 76.1,78.7 71.6,84.1 66.2,88.5 60.0,91.9 52.4,94.4 42.5,95.9 20.3,96.4 -0.6,96.4" fill="#bababa"/><polygon points="-0.6,0.0 92.3,0.0 91.6,12.9 90.6,24.8 89.2,35.8 87.3,45.9 85.0,54.9 82.2,63.1 78.9,70.2 75.1,76.4 70.6,81.7 65.3,86.0 59.2,89.3 51.8,91.7 42.1,93.2 20.3,93.6 -0.6,93.6" fill="#bcbcbc"/><polygon points="-0.6,0.0 91.0,0.0 90.3,12.5 89.3,24.1 87.9,34.8 86.0,44.5 83.8,53.3 81.0,61.2 77.8,68.1 74.0,74.2 69.6,79.3 64.4,83.4 58.4,86.7 51.2,89.0 41.7,90.4 20.3,90.9 -0.6,90.9" fill="#bebebe"/><polygon points="-0.6,0.0 89.7,0.0 89.0,12.1 88.0,23.4 86.6,33.7 84.8,43.1 82.5,51.7 79.8,59.3 76.6,66.1 72.9,71.9 68.5,76.8 63.5,80.9 57.6,84.0 50.5,86.3 41.2,87.6 20.3,88.1 -0.6,88.1" fill="#c0c0c0"/><polygon points="-0.6,0.0 88.4,0.0 87.7,11.7 86.7,22.6 85.2,32.6 83.4,41.8 81.2,50.0 78.6,57.4 75.4,63.9 71.8,69.6 67.5,74.4 62.6,78.3 56.8,81.3 49.8,83.5 40.7,84.8 20.3,85.2 -0.6,85.2" fill="#c2c2c2"/><polygon points="-0.6,0.0 87.0,0.0 86.3,11.3 85.3,21.9 83.9,31.5 82.1,40.4 79.9,48.3 77.3,55.5 74.2,61.8 70.6,67.3 66.5,71.9 61.6,75.7 56.0,78.6 49.2,80.7 40.3,82.0 20.3,82.4 -0.6,82.4" fill="#c4c4c4"/><polygon points="-0.6,0.0 85.7,0.0 85.0,11.0 83.9,21.1 82.5,30.4 80.8,38.9 78.6,46.6 76.0,53.5 73.0,59.6 69.5,64.9 65.4,69.4 60.7,73.0 55.2,75.8 48.5,77.9 39.8,79.1 20.3,79.5 -0.6,79.5" fill="#c6c6c6"/><polygon points="-0.6,0.0 84.3,0.0 83.6,10.5 82.5,20.3 81.1,29.3 79.4,37.5 77.3,44.9 74.7,51.6 71.7,57.4 68.3,62.5 64.3,66.8 59.7,70.3 54.3,73.1 47.8,75.0 39.3,76.2 20.3,76.6 -0.6,76.6" fill="#c8c8c8"/><polygon points="-0.6,0.0 82.9,0.0 82.1,10.1 81.1,19.5 79.7,28.2 78.0,36.1 75.9,43.2 73.4,49.6 70.5,55.2 67.1,60.1 63.2,64.2 58.7,67.6 53.5,70.2 47.1,72.1 38.9,73.2 20.3,73.6 -0.6,73.6" fill="#cacaca"/><polygon points="-0.6,0.0 81.4,0.0 80.7,9.7 79.7,18.7 78.3,27.0 76.6,34.6 74.5,41.4 72.1,47.5 69.2,53.0 65.9,57.6 62.1,61.6 57.7,64.8 52.6,67.4 46.4,69.2 38.4,70.2 20.3,70.6 -0.6,70.6" fill="#cccccc"/><polygon points="-0.6,0.0 80.0,0.0 79.2,9.3 78.2,17.9 76.8,25.9 75.1,33.1 73.1,39.6 70.7,45.5 67.9,50.7 64.7,55.2 61.0,58.9 56.7,62.0 51.7,64.5 45.7,66.2 37.9,67.2 20.3,67.6 -0.6,67.6" fill="#cecece"/><polygon points="-0.6,0.0 78.5,0.0 77.7,8.9 76.7,17.1 75.3,24.7 73.7,31.6 71.7,37.8 69.3,43.4 66.6,48.4 63.4,52.6 59.8,56.3 55.7,59.2 50.8,61.5 45.0,63.2 37.4,64.1 20.3,64.5 -0.6,64.5" fill="#d0d0d0"/><polygon points="-0.6,0.0 76.9,0.0 76.2,8.5 75.1,16.3 73.8,23.5 72.2,30.1 70.2,36.0 67.9,41.3 65.2,46.0 62.2,50.1 58.6,53.5 54.6,56.3 49.9,58.5 44.2,60.1 36.8,61.0 20.3,61.4 -0.6,61.4" fill="#d2d2d2"/><polygon points="-0.6,0.0 75.4,0.0 74.6,8.0 73.6,15.4 72.2,22.3 70.6,28.5 68.7,34.1 66.4,39.2 63.8,43.6 60.9,47.5 57.4,50.8 53.5,53.4 49.0,55.5 43.5,57.0 36.3,57.9 20.3,58.2 -0.6,58.2" fill="#d4d4d4"/><polygon points="-0.6,0.0 73.8,0.0 73.0,7.6 72.0,14.6 70.6,21.0 69.1,26.9 67.2,32.3 65.0,37.0 62.4,41.2 59.5,44.9 56.2,48.0 52.4,50.5 48.0,52.4 42.7,53.9 35.8,54.7 20.3,55.0 -0.6,55.0" fill="#d6d6d6"/><polygon points="-0.6,0.0 72.1,0.0 71.4,7.1 70.3,13.7 69.0,19.8 67.4,25.3 65.6,30.3 63.4,34.8 61.0,38.8 58.2,42.2 55.0,45.1 51.3,47.5 47.0,49.3 41.9,50.7 35.2,51.4 20.3,51.7 -0.6,51.7" fill="#d8d8d8"/><polygon points="-0.6,0.0 70.5,0.0 69.7,6.7 68.6,12.8 67.3,18.5 65.8,23.7 64.0,28.4 61.9,32.6 59.5,36.3 56.8,39.5 53.7,42.2 50.1,44.4 46.0,46.2 41.1,47.4 34.7,48.2 20.3,48.4 -0.6,48.4" fill="#dadada"/><polygon points="-0.6,0.0 68.7,0.0 67.9,6.2 66.9,11.9 65.6,17.2 64.1,22.1 62.3,26.4 60.3,30.3 58.0,33.8 55.3,36.8 52.4,39.3 48.9,41.4 45.0,43.0 40.2,44.1 34.1,44.8 20.3,45.0 -0.6,45.0" fill="#dcdcdc"/><polygon points="-0.6,0.0 66.9,0.0 66.1,5.7 65.1,11.0 63.8,15.9 62.3,20.4 60.6,24.4 58.6,28.0 56.4,31.2 53.9,34.0 51.0,36.3 47.7,38.2 43.9,39.7 39.4,40.8 33.5,41.4 20.3,41.6 -0.6,41.6" fill="#dedede"/><polygon points="-0.6,0.0 65.1,0.0 64.3,5.3 63.2,10.1 62.0,14.6 60.5,18.7 58.8,22.4 56.9,25.7 54.8,28.6 52.3,31.1 49.6,33.3 46.5,35.0 42.8,36.4 38.5,37.4 32.9,37.9 20.3,38.1 -0.6,38.1" fill="#e0e0e0"/><polygon points="-0.6,0.0 63.2,0.0 62.3,4.8 61.3,9.2 60.1,13.2 58.6,16.9 57.0,20.3 55.2,23.3 53.1,25.9 50.8,28.2 48.1,30.2 45.2,31.8 41.7,33.0 37.6,33.9 32.2,34.4 20.3,34.6 -0.6,34.6" fill="#e2e2e2"/><polygon points="-0.6,0.0 61.1,0.0 60.3,4.3 59.3,8.2 58.1,11.9 56.7,15.2 55.1,18.2 53.3,20.9 51.4,23.2 49.1,25.3 46.6,27.0 43.8,28.5 40.5,29.6 36.6,30.4 31.6,30.8 20.3,31.0 -0.6,31.0" fill="#e4e4e4"/><polygon points="-0.6,0.0 59.0,0.0 58.2,3.8 57.1,7.2 56.0,10.5 54.6,13.4 53.1,16.0 51.4,18.4 49.5,20.5 47.4,22.3 45.0,23.8 42.4,25.1 39.3,26.1 35.6,26.8 30.9,27.2 20.3,27.3 -0.6,27.3" fill="#e6e6e6"/><polygon points="-0.6,0.0 56.8,0.0 55.9,3.2 54.9,6.3 53.7,9.0 52.4,11.5 51.0,13.8 49.4,15.9 47.6,17.7 45.6,19.2 43.4,20.6 40.9,21.6 38.0,22.5 34.6,23.1 30.2,23.4 20.3,23.6 -0.6,23.6" fill="#e8e8e8"/><polygon points="-0.6,0.0 54.3,0.0 53.4,2.7 52.5,5.2 51.3,7.6 50.1,9.7 48.7,11.6 47.2,13.3 45.5,14.8 43.7,16.1 41.6,17.2 39.3,18.1 36.6,18.8 33.5,19.3 29.4,19.6 20.3,19.7 -0.6,19.7" fill="#eaeaea"/><polygon points="-0.6,0.0 51.6,0.0 50.8,2.2 49.8,4.2 48.7,6.1 47.6,7.8 46.3,9.3 44.9,10.7 43.3,11.9 41.6,12.9 39.7,13.8 37.6,14.5 35.1,15.1 32.3,15.5 28.6,15.8 20.3,15.8 -0.6,15.8" fill="#ececec"/><polygon points="-0.6,0.0 48.6,0.0 47.8,1.6 46.8,3.1 45.8,4.5 44.7,5.8 43.5,6.9 42.2,8.0 40.8,8.9 39.3,9.7 37.6,10.3 35.7,10.9 33.5,11.3 30.9,11.6 27.6,11.8 20.3,11.8 -0.6,11.8" fill="#eeeeee"/><polygon points="-0.6,0.0 44.9,0.0 44.1,1.1 43.3,2.1 42.3,3.0 41.3,3.8 40.3,4.5 39.1,5.2 37.9,5.8 36.5,6.3 35.1,6.8 33.4,7.1 31.6,7.4 29.4,7.6 26.6,7.7 20.3,7.8 -0.6,7.8" fill="#f0f0f0"/><polygon points="-0.6,0.0 39.8,0.0 39.1,0.5 38.3,0.9 37.5,1.4 36.7,1.7 35.9,2.1 34.9,2.4 34.0,2.7 32.9,2.9 31.7,3.1 30.5,3.3 29.0,3.4 27.3,3.5 25.1,3.5 20.3,3.6 -0.6,3.6" fill="#f2f2f2"/></g><use href="#hf7" transform="translate(897.80,0) scale(-1,1)"/></g><rect x="313.8" y="104" width="270.20" height="130.00" fill="none" stroke="#000" stroke-width="2"/>
<rect x="69.8" y="152.2" width="184.2" height="66.1" fill="#fff" stroke="#000" stroke-width="2" />
<rect x="349.6" y="176.2" width="51.6" height="34.2" fill="rgba(190,190,190,0.35)" stroke="#000" stroke-width="2" />
<line x1="50.40" y1="104.00" x2="50.40" y2="93.30" stroke="#000" stroke-width="2"/><polygon points="50.40,87.80 53.90,94.30 46.90,94.30" fill="#000"/>
<line x1="98.50" y1="104.00" x2="98.50" y2="93.30" stroke="#000" stroke-width="2"/><polygon points="98.50,87.80 102.00,94.30 95.00,94.30" fill="#000"/>
<line x1="268.80" y1="104.00" x2="268.80" y2="93.30" stroke="#000" stroke-width="2"/><polygon points="268.80,87.80 272.30,94.30 265.30,94.30" fill="#000"/>
<line x1="394.00" y1="87.50" x2="394.00" y2="97.50" stroke="#000" stroke-width="2"/><polygon points="394.00,103.00 390.50,96.50 397.50,96.50" fill="#000"/>
<line x1="509.20" y1="87.50" x2="509.20" y2="97.70" stroke="#000" stroke-width="2"/><polygon points="509.20,103.20 505.70,96.70 512.70,96.70" fill="#000"/>
<line x1="561.30" y1="87.50" x2="561.30" y2="97.70" stroke="#000" stroke-width="2"/><polygon points="561.30,103.20 557.80,96.70 564.80,96.70" fill="#000"/>
<line x1="371.70" y1="234.50" x2="371.70" y2="247.70" stroke="#000" stroke-width="2"/><polygon points="371.70,253.20 368.20,246.70 375.20,246.70" fill="#000"/>
<g clip-path="url(#cp8)" shape-rendering="crispEdges"><rect x="13" y="295.8" width="590.30" height="246.20" fill="#5e5e5e"/><g id="hf8" transform="translate(308.15,295.8)"><polygon points="-0.6,0.0 301.1,0.0 301.1,17.6 301.1,35.2 301.1,52.8 301.1,70.3 301.1,87.9 301.1,105.5 301.1,123.1 301.1,140.7 301.1,158.3 301.1,175.9 301.1,193.4 299.1,211.0 296.2,228.6 292.7,246.2 -0.6,246.2" fill="#616161"/><polygon points="-0.6,0.0 301.1,0.0 301.1,17.6 301.1,35.2 301.1,52.8 301.1,70.3 301.1,87.9 301.1,105.5 301.1,123.1 301.1,140.7 301.1,158.3 301.1,175.9 299.3,193.4 296.8,211.0 293.8,228.6 290.2,246.2 -0.6,246.2" fill="#636363"/><polygon points="-0.6,0.0 301.1,0.0 301.1,17.6 301.1,35.2 301.1,52.8 301.1,70.3 301.1,87.9 301.1,105.5 301.1,123.1 301.1,140.7 301.0,158.3 299.2,175.9 297.1,193.4 294.5,211.0 291.4,228.6 287.7,246.2 -0.6,246.2" fill="#656565"/><polygon points="-0.6,0.0 301.1,0.0 301.1,17.6 301.1,35.2 301.1,52.8 301.1,70.3 301.1,87.9 301.1,105.5 301.1,123.1 300.3,140.7 298.8,158.3 297.0,175.9 294.8,193.4 292.2,211.0 289.0,228.6 285.1,246.2 -0.6,246.2" fill="#676767"/><polygon points="-0.6,0.0 301.1,0.0 301.1,17.6 301.1,35.2 301.1,52.8 301.1,70.3 301.1,87.9 300.5,105.5 299.5,123.1 298.2,140.7 296.7,158.3 294.8,175.9 292.5,193.4 289.8,211.0 286.5,228.6 282.6,246.2 -0.6,246.2" fill="#696969"/><polygon points="-0.6,0.0 301.1,0.0 301.0,17.6 300.7,35.2 300.4,52.8 299.9,70.3 299.2,87.9 298.4,105.5 297.3,123.1 296.1,140.7 294.5,158.3 292.5,175.9 290.2,193.4 287.4,211.0 284.0,228.6 279.9,246.2 -0.6,246.2" fill="#6b6b6b"/><polygon points="-0.6,0.0 299.1,0.0 298.9,17.6 298.7,35.2 298.3,52.8 297.8,70.3 297.1,87.9 296.3,105.5 295.2,123.1 293.9,140.7 292.3,158.3 290.3,175.9 287.9,193.4 285.0,211.0 281.5,228.6 277.2,246.2 -0.6,246.2" fill="#6d6d6d"/><polygon points="-0.6,0.0 297.1,0.0 296.9,17.6 296.6,35.2 296.2,52.8 295.7,70.3 295.0,87.9 294.2,105.5 293.1,123.1 291.7,140.7 290.0,158.3 288.0,175.9 285.5,193.4 282.5,211.0 278.9,228.6 274.5,246.2 -0.6,246.2" fill="#6f6f6f"/><polygon points="-0.6,0.0 295.0,0.0 294.8,17.6 294.5,35.2 294.1,52.8 293.6,70.3 292.9,87.9 292.0,105.5 290.9,123.1 289.5,140.7 287.8,158.3 285.7,175.9 283.1,193.4 280.0,211.0 276.3,228.6 271.8,246.2 -0.6,246.2" fill="#717171"/><polygon points="-0.6,0.0 292.9,0.0 292.7,17.6 292.4,35.2 292.0,52.8 291.5,70.3 290.8,87.9 289.9,105.5 288.7,123.1 287.3,140.7 285.5,158.3 283.3,175.9 280.7,193.4 277.5,211.0 273.7,228.6 268.9,246.2 -0.6,246.2" fill="#737373"/><polygon points="-0.6,0.0 290.8,0.0 290.6,17.6 290.4,35.2 289.9,52.8 289.4,70.3 288.6,87.9 287.7,105.5 286.5,123.1 285.0,140.7 283.2,158.3 281.0,175.9 278.3,193.4 275.0,211.0 271.0,228.6 266.1,246.2 -0.6,246.2" fill="#757575"/><polygon points="-0.6,0.0 288.7,0.0 288.5,17.6 288.2,35.2 287.8,52.8 287.2,70.3 286.5,87.9 285.5,105.5 284.3,123.1 282.8,140.7 280.9,158.3 278.6,175.9 275.8,193.4 272.4,211.0 268.2,228.6 263.2,246.2 -0.6,246.2" fill="#777777"/><polygon points="-0.6,0.0 286.6,0.0 286.4,17.6 286.1,35.2 285.7,52.8 285.1,70.3 284.3,87.9 283.3,105.5 282.0,123.1 280.5,140.7 278.5,158.3 276.2,175.9 273.3,193.4 269.8,211.0 265.5,228.6 260.2,246.2 -0.6,246.2" fill="#797979"/><polygon points="-0.6,0.0 284.5,0.0 284.3,17.6 284.0,35.2 283.5,52.8 282.9,70.3 282.1,87.9 281.1,105.5 279.8,123.1 278.2,140.7 276.2,158.3 273.7,175.9 270.7,193.4 267.1,211.0 262.6,228.6 257.1,246.2 -0.6,246.2" fill="#7b7b7b"/><polygon points="-0.6,0.0 282.4,0.0 282.1,17.6 281.8,35.2 281.4,52.8 280.7,70.3 279.9,87.9 278.9,105.5 277.5,123.1 275.9,140.7 273.8,158.3 271.3,175.9 268.2,193.4 264.4,211.0 259.7,228.6 254.0,246.2 -0.6,246.2" fill="#7d7d7d"/><polygon points="-0.6,0.0 280.2,0.0 280.0,17.6 279.7,35.2 279.2,52.8 278.5,70.3 277.7,87.9 276.6,105.5 275.2,123.1 273.5,140.7 271.4,158.3 268.8,175.9 265.6,193.4 261.6,211.0 256.8,228.6 250.8,246.2 -0.6,246.2" fill="#7f7f7f"/><polygon points="-0.6,0.0 278.0,0.0 277.8,17.6 277.5,35.2 277.0,52.8 276.3,70.3 275.5,87.9 274.3,105.5 272.9,123.1 271.1,140.7 268.9,158.3 266.2,175.9 262.9,193.4 258.8,211.0 253.8,228.6 247.5,246.2 -0.6,246.2" fill="#818181"/><polygon points="-0.6,0.0 275.9,0.0 275.6,17.6 275.3,35.2 274.8,52.8 274.1,70.3 273.2,87.9 272.0,105.5 270.6,123.1 268.7,140.7 266.5,158.3 263.7,175.9 260.2,193.4 256.0,211.0 250.7,228.6 244.1,246.2 -0.6,246.2" fill="#838383"/><polygon points="-0.6,0.0 273.7,0.0 273.4,17.6 273.1,35.2 272.5,52.8 271.8,70.3 270.9,87.9 269.7,105.5 268.2,123.1 266.3,140.7 264.0,158.3 261.1,175.9 257.5,193.4 253.1,211.0 247.5,228.6 240.6,246.2 -0.6,246.2" fill="#858585"/><polygon points="-0.6,0.0 271.5,0.0 271.2,17.6 270.8,35.2 270.3,52.8 269.6,70.3 268.6,87.9 267.4,105.5 265.8,123.1 263.9,140.7 261.4,158.3 258.4,175.9 254.7,193.4 250.1,211.0 244.3,228.6 236.9,246.2 -0.6,246.2" fill="#878787"/><polygon points="-0.6,0.0 269.2,0.0 269.0,17.6 268.6,35.2 268.0,52.8 267.3,70.3 266.3,87.9 265.0,105.5 263.4,123.1 261.4,140.7 258.9,158.3 255.7,175.9 251.9,193.4 247.0,211.0 241.0,228.6 233.2,246.2 -0.6,246.2" fill="#898989"/><polygon points="-0.6,0.0 267.0,0.0 266.7,17.6 266.3,35.2 265.8,52.8 265.0,70.3 264.0,87.9 262.7,105.5 261.0,123.1 258.9,140.7 256.3,158.3 253.0,175.9 249.0,193.4 243.9,211.0 237.5,228.6 229.3,246.2 -0.6,246.2" fill="#8b8b8b"/><polygon points="-0.6,0.0 264.7,0.0 264.5,17.6 264.1,35.2 263.5,52.8 262.7,70.3 261.6,87.9 260.3,105.5 258.5,123.1 256.3,140.7 253.6,158.3 250.3,175.9 246.0,193.4 240.7,211.0 234.0,228.6 225.2,246.2 -0.6,246.2" fill="#8d8d8d"/><polygon points="-0.6,0.0 262.5,0.0 262.2,17.6 261.8,35.2 261.2,52.8 260.3,70.3 259.2,87.9 257.8,105.5 256.0,123.1 253.8,140.7 251.0,158.3 247.4,175.9 243.0,193.4 237.5,211.0 230.3,228.6 220.9,246.2 -0.6,246.2" fill="#8f8f8f"/><polygon points="-0.6,0.0 260.2,0.0 259.9,17.6 259.4,35.2 258.8,52.8 258.0,70.3 256.8,87.9 255.4,105.5 253.5,123.1 251.2,140.7 248.2,158.3 244.6,175.9 239.9,193.4 234.1,211.0 226.5,228.6 216.5,246.2 -0.6,246.2" fill="#919191"/><polygon points="-0.6,0.0 257.9,0.0 257.6,17.6 257.1,35.2 256.5,52.8 255.6,70.3 254.4,87.9 252.9,105.5 251.0,123.1 248.5,140.7 245.5,158.3 241.6,175.9 236.8,193.4 230.6,211.0 222.6,228.6 211.7,246.2 -0.6,246.2" fill="#939393"/><polygon points="-0.6,0.0 255.5,0.0 255.2,17.6 254.8,35.2 254.1,52.8 253.2,70.3 252.0,87.9 250.4,105.5 248.4,123.1 245.9,140.7 242.7,158.3 238.7,175.9 233.6,193.4 227.0,211.0 218.5,228.6 206.6,246.2 -0.6,246.2" fill="#959595"/><polygon points="-0.6,0.0 253.2,0.0 252.9,17.6 252.4,35.2 251.7,52.8 250.8,70.3 249.5,87.9 247.9,105.5 245.8,123.1 243.1,140.7 239.8,158.3 235.6,175.9 230.2,193.4 223.3,211.0 214.1,228.6 201.2,246.2 -0.6,246.2" fill="#979797"/><polygon points="-0.6,0.0 250.8,0.0 250.5,17.6 250.0,35.2 249.3,52.8 248.3,70.3 247.0,87.9 245.3,105.5 243.1,123.1 240.4,140.7 236.9,158.3 232.5,175.9 226.8,193.4 219.5,211.0 209.5,228.6 195.2,246.2 -0.6,246.2" fill="#999999"/><polygon points="-0.6,0.0 248.4,0.0 248.1,17.6 247.6,35.2 246.8,52.8 245.8,70.3 244.5,87.9 242.7,105.5 240.4,123.1 237.6,140.7 233.9,158.3 229.3,175.9 223.3,193.4 215.4,211.0 204.7,228.6 188.6,246.2 -0.6,246.2" fill="#9b9b9b"/><polygon points="-0.6,0.0 246.0,0.0 245.7,17.6 245.1,35.2 244.4,52.8 243.3,70.3 241.9,87.9 240.1,105.5 237.7,123.1 234.7,140.7 230.9,158.3 226.0,175.9 219.7,193.4 211.2,211.0 199.5,228.6 181.2,246.2 -0.6,246.2" fill="#9d9d9d"/><polygon points="-0.6,0.0 243.6,0.0 243.2,17.6 242.7,35.2 241.9,52.8 240.8,70.3 239.3,87.9 237.4,105.5 235.0,123.1 231.8,140.7 227.8,158.3 222.6,175.9 215.9,193.4 206.8,211.0 193.8,228.6 172.6,246.2 -0.6,246.2" fill="#9f9f9f"/><polygon points="-0.6,0.0 241.2,0.0 240.8,17.6 240.2,35.2 239.4,52.8 238.2,70.3 236.7,87.9 234.7,105.5 232.1,123.1 228.8,140.7 224.6,158.3 219.1,175.9 211.9,193.4 202.1,211.0 187.6,228.6 162.0,246.2 -0.6,246.2" fill="#a1a1a1"/><polygon points="-0.6,0.0 238.7,0.0 238.3,17.6 237.7,35.2 236.8,52.8 235.6,70.3 234.1,87.9 232.0,105.5 229.3,123.1 225.8,140.7 221.3,158.3 215.5,175.9 207.8,193.4 197.0,211.0 180.7,228.6 147.7,246.2 -0.6,246.2" fill="#a3a3a3"/><polygon points="-0.6,0.0 236.2,0.0 235.8,17.6 235.2,35.2 234.3,52.8 233.0,70.3 231.4,87.9 229.2,105.5 226.4,123.1 222.7,140.7 218.0,158.3 211.8,175.9 203.5,193.4 191.6,211.0 172.7,228.6 123.0,246.2 -0.6,246.2" fill="#a5a5a5"/><polygon points="-0.6,0.0 233.7,0.0 232.7,33.6 230.8,64.6 228.0,93.2 224.1,119.3 219.0,142.9 212.6,164.1 204.7,182.7 195.4,198.9 184.3,212.6 171.1,223.7 155.3,232.4 135.8,238.7 109.7,242.4 44.3,243.6 -0.6,243.6" fill="#a7a7a7"/><polygon points="-0.6,0.0 231.2,0.0 230.1,32.8 228.3,63.3 225.5,91.2 221.6,116.8 216.5,139.9 210.2,160.6 202.4,178.8 193.2,194.7 182.2,208.0 169.2,219.0 153.7,227.5 134.5,233.6 108.7,237.2 44.3,238.5 -0.6,238.5" fill="#a9a9a9"/><polygon points="-0.6,0.0 228.6,0.0 227.6,32.1 225.7,61.9 222.9,89.3 219.0,114.2 214.0,136.9 207.7,157.1 200.1,174.9 191.0,190.4 180.1,203.5 167.3,214.2 152.0,222.5 133.1,228.5 107.7,232.1 44.3,233.2 -0.6,233.2" fill="#ababab"/><polygon points="-0.6,0.0 226.0,0.0 225.0,31.4 223.1,60.5 220.3,87.2 216.5,111.7 211.5,133.8 205.3,153.5 197.7,171.0 188.7,186.1 178.1,198.9 165.4,209.4 150.3,217.5 131.7,223.3 106.7,226.8 44.3,228.0 -0.6,228.0" fill="#adadad"/><polygon points="-0.6,0.0 223.4,0.0 222.3,30.7 220.5,59.1 217.7,85.2 213.9,109.1 208.9,130.7 202.8,150.0 195.3,167.0 186.5,181.8 175.9,194.3 163.5,204.5 148.7,212.5 130.3,218.2 105.7,221.6 44.3,222.7 -0.6,222.7" fill="#afafaf"/><polygon points="-0.6,0.0 220.8,0.0 219.7,29.9 217.8,57.7 215.0,83.2 211.2,106.5 206.4,127.5 200.3,146.4 192.9,163.0 184.2,177.4 173.8,189.6 161.6,199.6 146.9,207.4 128.9,212.9 104.7,216.2 44.3,217.4 -0.6,217.4" fill="#b1b1b1"/><polygon points="-0.6,0.0 218.1,0.0 217.0,29.2 215.1,56.2 212.4,81.1 208.6,103.8 203.7,124.4 197.7,142.8 190.5,159.0 181.8,173.0 171.6,184.9 159.6,194.7 145.2,202.2 127.5,207.6 103.7,210.9 44.3,212.0 -0.6,212.0" fill="#b3b3b3"/><polygon points="-0.6,0.0 215.4,0.0 214.3,28.5 212.4,54.8 209.6,79.0 205.9,101.2 201.1,121.2 195.2,139.1 188.0,154.9 179.5,168.6 169.5,180.2 157.6,189.7 143.5,197.0 126.0,202.3 102.7,205.5 44.3,206.5 -0.6,206.5" fill="#b5b5b5"/><polygon points="-0.6,0.0 212.6,0.0 211.5,27.7 209.7,53.3 206.9,76.9 203.2,98.5 198.4,118.0 192.6,135.4 185.5,150.8 177.1,164.1 167.3,175.4 155.6,184.6 141.7,191.8 124.6,196.9 101.6,200.0 44.3,201.0 -0.6,201.0" fill="#b7b7b7"/><polygon points="-0.6,0.0 209.9,0.0 208.8,26.9 206.9,51.9 204.1,74.8 200.4,95.8 195.7,114.7 190.0,131.7 183.0,146.6 174.7,159.6 165.0,170.6 153.6,179.6 139.9,186.5 123.1,191.5 100.6,194.5 44.3,195.5 -0.6,195.5" fill="#b9b9b9"/><polygon points="-0.6,0.0 207.1,0.0 205.9,26.2 204.0,50.4 201.3,72.7 197.7,93.0 193.0,111.4 187.3,127.9 180.5,142.4 172.3,155.0 162.8,165.7 151.5,174.4 138.1,181.2 121.6,186.1 99.5,189.0 44.3,189.9 -0.6,189.9" fill="#bbbbbb"/><polygon points="-0.6,0.0 204.2,0.0 203.1,25.4 201.2,48.9 198.5,70.5 194.8,90.3 190.3,108.1 184.6,124.1 177.9,138.2 169.9,150.4 160.5,160.8 149.4,169.2 136.3,175.8 120.1,180.5 98.4,183.4 44.3,184.3 -0.6,184.3" fill="#bdbdbd"/><polygon points="-0.6,0.0 201.4,0.0 200.2,24.6 198.3,47.4 195.6,68.3 192.0,87.5 187.4,104.8 181.9,120.3 175.2,134.0 167.4,145.8 158.2,155.8 147.3,164.0 134.4,170.4 118.6,175.0 97.3,177.7 44.3,178.6 -0.6,178.6" fill="#bfbfbf"/><polygon points="-0.6,0.0 198.5,0.0 197.3,23.8 195.4,45.9 192.7,66.1 189.1,84.7 184.6,101.4 179.1,116.4 172.6,129.6 164.9,141.1 155.8,150.8 145.2,158.7 132.6,164.9 117.0,169.3 96.2,172.0 44.3,172.9 -0.6,172.9" fill="#c1c1c1"/><polygon points="-0.6,0.0 195.5,0.0 194.3,23.0 192.4,44.3 189.7,63.9 186.2,81.8 181.7,98.0 176.3,112.5 169.9,125.3 162.3,136.4 153.5,145.7 143.0,153.4 130.7,159.4 115.4,163.6 95.1,166.2 44.3,167.1 -0.6,167.1" fill="#c3c3c3"/><polygon points="-0.6,0.0 192.5,0.0 191.3,22.2 189.4,42.8 186.7,61.7 183.2,79.0 178.8,94.6 173.5,108.6 167.2,120.9 159.7,131.6 151.0,140.6 140.8,148.0 128.7,153.8 113.9,157.9 94.0,160.4 44.3,161.2 -0.6,161.2" fill="#c5c5c5"/><polygon points="-0.6,0.0 189.5,0.0 188.2,21.4 186.3,41.2 183.6,59.4 180.2,76.1 175.8,91.1 170.6,104.6 164.4,116.5 157.1,126.8 148.6,135.5 138.6,142.6 126.8,148.1 112.2,152.1 92.8,154.5 44.3,155.3 -0.6,155.3" fill="#c7c7c7"/><polygon points="-0.6,0.0 186.4,0.0 185.1,20.6 183.2,39.6 180.5,57.1 177.1,73.1 172.8,87.6 167.7,100.5 161.6,112.0 154.4,121.9 146.1,130.2 136.4,137.1 124.8,142.4 110.6,146.2 91.6,148.5 44.3,149.3 -0.6,149.3" fill="#c9c9c9"/><polygon points="-0.6,0.0 183.2,0.0 181.9,19.7 180.0,38.0 177.3,54.8 174.0,70.2 169.8,84.0 164.7,96.5 158.7,107.4 151.7,116.9 143.6,125.0 134.1,131.5 122.8,136.7 108.9,140.3 90.4,142.5 44.3,143.2 -0.6,143.2" fill="#cbcbcb"/><polygon points="-0.6,0.0 180.0,0.0 178.7,18.9 176.8,36.4 174.1,52.5 170.8,67.2 166.6,80.5 161.7,92.3 155.8,102.8 149.0,111.9 141.0,119.6 131.7,125.9 120.7,130.8 107.2,134.3 89.2,136.4 44.3,137.1 -0.6,137.1" fill="#cdcdcd"/><polygon points="-0.6,0.0 176.8,0.0 175.4,18.0 173.5,34.7 170.8,50.1 167.5,64.1 163.5,76.8 158.6,88.2 152.9,98.2 146.2,106.9 138.4,114.2 129.4,120.2 118.6,124.9 105.5,128.3 88.0,130.3 44.3,130.9 -0.6,130.9" fill="#cfcfcf"/><polygon points="-0.6,0.0 173.4,0.0 172.1,17.2 170.1,33.1 167.5,47.7 164.2,61.1 160.2,73.1 155.4,84.0 149.8,93.5 143.3,101.8 135.8,108.8 126.9,114.5 116.5,118.9 103.8,122.1 86.7,124.0 44.3,124.7 -0.6,124.7" fill="#d1d1d1"/><polygon points="-0.6,0.0 170.0,0.0 168.6,16.3 166.7,31.4 164.1,45.3 160.9,58.0 156.9,69.4 152.2,79.7 146.8,88.8 140.4,96.6 133.0,103.2 124.5,108.7 114.3,112.9 102.0,115.9 85.5,117.7 44.3,118.3 -0.6,118.3" fill="#d3d3d3"/><polygon points="-0.6,0.0 166.6,0.0 165.1,15.4 163.2,29.7 160.6,42.8 157.4,54.8 153.5,65.7 149.0,75.4 143.6,83.9 137.4,91.4 130.3,97.7 122.0,102.8 112.1,106.8 100.1,109.6 84.1,111.4 44.3,111.9 -0.6,111.9" fill="#d5d5d5"/><polygon points="-0.6,0.0 163.0,0.0 161.6,14.5 159.6,28.0 157.0,40.3 153.9,51.6 150.1,61.9 145.6,71.0 140.4,79.1 134.4,86.1 127.4,92.0 119.4,96.8 109.9,100.6 98.3,103.3 82.8,104.9 44.3,105.4 -0.6,105.4" fill="#d7d7d7"/><polygon points="-0.6,0.0 159.4,0.0 157.9,13.6 155.9,26.2 153.4,37.8 150.3,48.4 146.5,58.0 142.2,66.6 137.1,74.2 131.3,80.7 124.5,86.3 116.8,90.8 107.6,94.3 96.4,96.9 81.4,98.4 44.3,98.9 -0.6,98.9" fill="#d9d9d9"/><polygon points="-0.6,0.0 155.6,0.0 154.1,12.7 152.1,24.5 149.6,35.3 146.6,45.2 142.9,54.1 138.7,62.1 133.7,69.2 128.1,75.3 121.6,80.5 114.1,84.7 105.2,88.0 94.4,90.3 80.1,91.7 44.3,92.2 -0.6,92.2" fill="#dbdbdb"/><polygon points="-0.6,0.0 151.8,0.0 150.2,11.8 148.2,22.7 145.7,32.7 142.7,41.9 139.2,50.1 135.0,57.6 130.3,64.1 124.8,69.8 118.5,74.6 111.3,78.5 102.8,81.5 92.4,83.7 78.6,85.0 44.3,85.5 -0.6,85.5" fill="#dddddd"/><polygon points="-0.6,0.0 147.8,0.0 146.2,10.8 144.2,20.9 141.8,30.1 138.8,38.5 135.3,46.1 131.3,53.0 126.7,59.0 121.4,64.2 115.4,68.6 108.4,72.2 100.3,75.0 90.3,77.0 77.1,78.2 44.3,78.6 -0.6,78.6" fill="#dfdfdf"/><polygon points="-0.6,0.0 143.7,0.0 142.1,9.9 140.1,19.0 137.6,27.4 134.7,35.1 131.3,42.1 127.4,48.3 123.0,53.8 117.9,58.5 112.1,62.6 105.5,65.8 97.7,68.4 88.2,70.2 75.6,71.3 44.3,71.7 -0.6,71.7" fill="#e1e1e1"/><polygon points="-0.6,0.0 139.4,0.0 137.8,8.9 135.7,17.2 133.3,24.7 130.5,31.7 127.2,37.9 123.4,43.5 119.2,48.5 114.3,52.8 108.8,56.4 102.4,59.4 95.0,61.7 86.0,63.3 74.0,64.3 44.3,64.7 -0.6,64.7" fill="#e3e3e3"/><polygon points="-0.6,0.0 134.9,0.0 133.2,7.9 131.2,15.3 128.8,22.0 126.1,28.2 122.9,33.7 119.3,38.7 115.2,43.1 110.5,47.0 105.3,50.2 99.2,52.8 92.2,54.9 83.7,56.3 72.4,57.2 44.3,57.5 -0.6,57.5" fill="#e5e5e5"/><polygon points="-0.6,0.0 130.1,0.0 128.5,6.9 126.4,13.3 124.1,19.2 121.4,24.6 118.3,29.5 114.9,33.8 111.0,37.7 106.6,41.0 101.6,43.9 95.9,46.2 89.3,48.0 81.3,49.2 70.7,50.0 44.3,50.3 -0.6,50.3" fill="#e7e7e7"/><polygon points="-0.6,0.0 125.1,0.0 123.4,5.9 121.4,11.4 119.1,16.4 116.5,21.0 113.5,25.2 110.2,28.9 106.5,32.2 102.4,35.0 97.7,37.4 92.4,39.4 86.2,40.9 78.7,42.0 68.8,42.7 44.3,42.9 -0.6,42.9" fill="#e9e9e9"/><polygon points="-0.6,0.0 119.6,0.0 117.9,4.9 115.9,9.4 113.7,13.5 111.2,17.3 108.4,20.8 105.2,23.8 101.8,26.5 97.9,28.9 93.6,30.9 88.6,32.5 82.9,33.8 76.0,34.7 66.9,35.2 44.3,35.4 -0.6,35.4" fill="#ebebeb"/><polygon points="-0.6,0.0 113.6,0.0 111.9,3.8 109.9,7.4 107.8,10.6 105.4,13.6 102.7,16.3 99.8,18.7 96.6,20.8 93.0,22.7 89.0,24.2 84.5,25.5 79.3,26.5 73.1,27.2 64.8,27.6 44.3,27.8 -0.6,27.8" fill="#ededed"/><polygon points="-0.6,0.0 106.6,0.0 104.9,2.8 103.0,5.3 101.0,7.7 98.7,9.8 96.3,11.7 93.6,13.5 90.7,15.0 87.5,16.3 83.9,17.5 79.9,18.4 75.3,19.1 69.7,19.6 62.4,19.9 44.3,20.0 -0.6,20.0" fill="#efefef"/><polygon points="-0.6,0.0 97.9,0.0 96.3,1.7 94.6,3.2 92.7,4.6 90.7,5.9 88.5,7.1 86.2,8.2 83.6,9.1 80.9,9.9 77.8,10.6 74.4,11.1 70.5,11.6 65.8,11.9 59.6,12.1 44.3,12.1 -0.6,12.1" fill="#f1f1f1"/><polygon points="-0.6,0.0 84.2,0.0 82.8,0.6 81.4,1.1 79.9,1.6 78.4,2.0 76.7,2.4 74.9,2.7 73.0,3.1 70.9,3.3 68.7,3.6 66.2,3.7 63.3,3.9 59.9,4.0 55.4,4.1 44.3,4.1 -0.6,4.1" fill="#f3f3f3"/></g><use href="#hf8" transform="translate(616.30,0) scale(-1,1)"/></g><rect x="13" y="295.8" width="590.30" height="246.20" fill="none" stroke="#000" stroke-width="2"/>
<rect x="215" y="254.9" width="219.5" height="39.7" fill="#333" stroke="#000" stroke-width="2" />
<line x1="260.00" y1="452.00" x2="260.00" y2="301.50" stroke="#000" stroke-width="2"/><polygon points="260.00,296.00 263.50,302.50 256.50,302.50" fill="#000"/>
<line x1="325.70" y1="420.00" x2="325.70" y2="302.50" stroke="#f028a4" stroke-width="2"/><polygon points="325.70,296.50 328.95,303.50 322.45,303.50" fill="#f028a4"/>
<line x1="325.70" y1="420.00" x2="325.70" y2="536.00" stroke="#f028a4" stroke-width="2"/><polygon points="325.70,542.00 322.45,535.00 328.95,535.00" fill="#f028a4"/>
<rect x="40" y="364.2" width="241.2" height="72.6" fill="rgba(186,250,74,0.85)" stroke="#000" stroke-width="2" />
<rect x="39.9" y="452.3" width="241.3" height="74.1" fill="rgba(186,250,74,0.85)" stroke="#000" stroke-width="2" />
<rect x="375.4" y="362.4" width="195.1" height="72.8" fill="rgba(186,250,74,0.85)" stroke="#000" stroke-width="2" />
<rect x="375.5" y="452.3" width="195.0" height="72.7" fill="rgba(186,250,74,0.85)" stroke="#000" stroke-width="2" />
<line x1="260" y1="364" x2="260" y2="452" stroke="#000" stroke-width="2"/>
<line x1="509.00" y1="338.00" x2="509.00" y2="446.50" stroke="#000" stroke-width="2"/><polygon points="509.00,452.00 505.50,445.50 512.50,445.50" fill="#000"/>
<line x1="465.40" y1="344.00" x2="465.40" y2="356.50" stroke="#000" stroke-width="2"/><polygon points="465.40,362.00 461.90,355.50 468.90,355.50" fill="#000"/>
<line x1="465.20" y1="435.50" x2="465.20" y2="446.50" stroke="#000" stroke-width="2"/><polygon points="465.20,452.00 461.70,445.50 468.70,445.50" fill="#000"/>
<line x1="158.60" y1="452.00" x2="158.60" y2="442.50" stroke="#000" stroke-width="2"/><polygon points="158.60,437.00 162.10,443.50 155.10,443.50" fill="#000"/>
<rect x="177.4" y="304" width="393.1" height="34" fill="rgba(165,165,165,0.9)" stroke="#000" stroke-width="2" />
<rect x="65.3" y="392.5" width="184.2" height="33.5" fill="#fff" stroke="#000" stroke-width="2" />
<rect x="68" y="482" width="178.6" height="34.5" fill="rgba(255,255,255,0.88)" stroke="#000" stroke-width="2" />
<rect x="383.1" y="388.3" width="178.9" height="33.4" fill="rgba(255,255,255,0.88)" stroke="#000" stroke-width="2" />
<rect x="383.4" y="480.6" width="178.4" height="34.1" fill="rgba(255,255,255,0.88)" stroke="#000" stroke-width="2" />
<rect x="300.4" y="424.8" width="50.9" height="33.0" fill="#d2d2d2" stroke="#000" stroke-width="2" />
<line x1="281.30" y1="392.80" x2="309.41" y2="418.03" stroke="#000" stroke-width="2"/><polygon points="313.50,421.70 306.32,419.96 311.00,414.75" fill="#000"/>
<line x1="374.30" y1="395.00" x2="347.08" y2="416.95" stroke="#000" stroke-width="2"/><polygon points="342.80,420.40 345.66,413.60 350.06,419.04" fill="#000"/>
<line x1="282.00" y1="489.00" x2="302.98" y2="463.83" stroke="#000" stroke-width="2"/><polygon points="306.50,459.60 305.03,466.83 299.65,462.35" fill="#000"/>
<line x1="375.40" y1="485.20" x2="346.69" y2="464.88" stroke="#000" stroke-width="2"/><polygon points="342.20,461.70 349.53,462.60 345.48,468.31" fill="#000"/>
<rect x="204.4" y="543" width="219.3" height="40.4" fill="#333" stroke="#000" stroke-width="2" />
<g style="filter:grayscale(1)"><text x="20.1" y="33.4" font-size="23" fill="#000" stroke="#000" textLength="105.7" lengthAdjust="spacingAndGlyphs" >PF0/ECPF</text>
<text x="37.6" y="76.1" font-size="16" fill="#000" stroke="#000" textLength="22.4" lengthAdjust="spacingAndGlyphs" >RQ</text>
<text x="88.4" y="76.1" font-size="16" fill="#000" stroke="#000" textLength="22.4" lengthAdjust="spacingAndGlyphs" >RQ</text>
<text x="230.2" y="75" font-size="16" fill="#000" stroke="#000" textLength="153.1" lengthAdjust="spacingAndGlyphs" >Hairpin/Interport HP</text>
<text x="498.8" y="75.8" font-size="16" fill="#000" stroke="#000" textLength="19.6" lengthAdjust="spacingAndGlyphs" >SQ</text>
<text x="551.2" y="75.8" font-size="16" fill="#000" stroke="#000" textLength="19.8" lengthAdjust="spacingAndGlyphs" >SQ</text>
<text x="34.7" y="131.2" font-size="23" fill="#000" stroke="#000" textLength="70.0" lengthAdjust="spacingAndGlyphs" >NIC Rx</text>
<text x="320.5" y="131.4" font-size="23" fill="#000" stroke="#000" textLength="70.9" lengthAdjust="spacingAndGlyphs" >NIC Tx</text>
<text x="114.0" y="181.3" font-size="16" fill="#000" stroke="#000" textLength="94.1" lengthAdjust="spacingAndGlyphs" >Internal Pipe</text>
<text x="120.5" y="200.3" font-size="16" fill="#000" stroke="#000" textLength="81.8" lengthAdjust="spacingAndGlyphs" >RSS/Queue</text>
<text x="359.4" y="198.5" font-size="16" fill="#000" stroke="#000" textLength="31.0" lengthAdjust="spacingAndGlyphs" >Miss</text>
<text x="20.3" y="322.7" font-size="23" fill="#000" stroke="#000" textLength="143.6" lengthAdjust="spacingAndGlyphs" >E-Switch FDB</text>
<text x="303.1" y="280.2" font-size="16" fill="#fff" stroke="#fff" textLength="41.3" lengthAdjust="spacingAndGlyphs" >Vport</text>
<text x="315.5" y="326.6" font-size="16" fill="#fff" stroke="#fff" textLength="115.3" lengthAdjust="spacingAndGlyphs" >DOCA Root pipe</text>
<text x="47.1" y="383" font-size="16" fill="#000" stroke="#000" textLength="61.5" lengthAdjust="spacingAndGlyphs" >DEFAULT</text>
<text x="46.4" y="471.5" font-size="16" fill="#000" stroke="#000" textLength="125.9" lengthAdjust="spacingAndGlyphs" >SECURE_INGRESS</text>
<text x="382.4" y="382.2" font-size="16" fill="#000" stroke="#000" textLength="53.8" lengthAdjust="spacingAndGlyphs" >EGRESS</text>
<text x="382.4" y="471.8" font-size="16" fill="#000" stroke="#000" textLength="118.6" lengthAdjust="spacingAndGlyphs" >SECURE_EGRESS</text>
<text x="86.7" y="415.5" font-size="16" fill="#000" stroke="#000" textLength="140.4" lengthAdjust="spacingAndGlyphs" >Pipe no RSS/Queue</text>
<text x="109.8" y="504" font-size="16" fill="#000" stroke="#000" textLength="94.2" lengthAdjust="spacingAndGlyphs" >Pipe Decrypt</text>
<text x="401.2" y="410.4" font-size="16" fill="#000" stroke="#000" textLength="142.4" lengthAdjust="spacingAndGlyphs" >Pipe Encap/actions</text>
<text x="396.8" y="503.2" font-size="16" fill="#000" stroke="#000" textLength="150.9" lengthAdjust="spacingAndGlyphs" >Pipe Encrypt actions</text>
<text x="309.5" y="447" font-size="16" fill="#000" stroke="#000" textLength="31.1" lengthAdjust="spacingAndGlyphs" >Miss</text>
<text x="296.7" y="568.8" font-size="16" fill="#fff" stroke="#fff" textLength="33.4" lengthAdjust="spacingAndGlyphs" >Wire</text></g>
</svg></body></html>
